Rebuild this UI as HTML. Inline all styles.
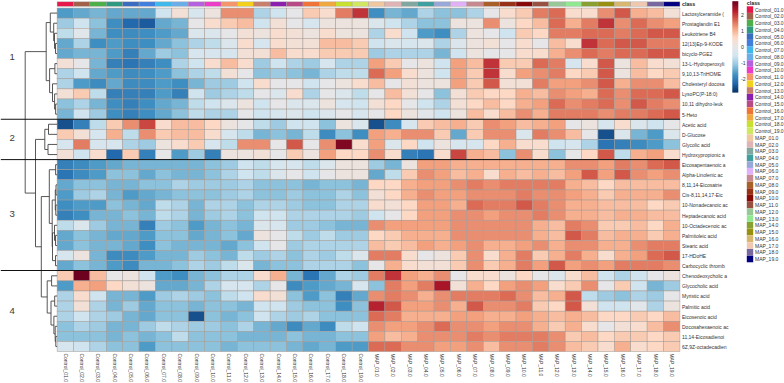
<!DOCTYPE html><html><head><meta charset="utf-8"><style>html,body{margin:0;padding:0;background:#fff;}svg{display:block;}text{font-family:"Liberation Sans",sans-serif;}</style></head><body>
<svg width="784" height="383" viewBox="0 0 784 383">
<rect width="784" height="383" fill="#fff"/>
<g stroke="#a39c98" stroke-width="0.4">
<rect x="57.10" y="1.85" width="16.39" height="4.45" fill="#E8174A"/>
<rect x="73.49" y="1.85" width="16.39" height="4.45" fill="#A0604A"/>
<rect x="89.88" y="1.85" width="16.39" height="4.45" fill="#4DAF4A"/>
<rect x="106.27" y="1.85" width="16.39" height="4.45" fill="#2E9A80"/>
<rect x="122.66" y="1.85" width="16.39" height="4.45" fill="#3A6CC0"/>
<rect x="139.05" y="1.85" width="16.39" height="4.45" fill="#3F7FDD"/>
<rect x="155.44" y="1.85" width="16.39" height="4.45" fill="#3FB8EC"/>
<rect x="171.83" y="1.85" width="16.39" height="4.45" fill="#6AAEE8"/>
<rect x="188.22" y="1.85" width="16.39" height="4.45" fill="#B560E0"/>
<rect x="204.61" y="1.85" width="16.39" height="4.45" fill="#EC3CC8"/>
<rect x="221.00" y="1.85" width="16.39" height="4.45" fill="#F4956A"/>
<rect x="237.39" y="1.85" width="16.39" height="4.45" fill="#F2D01C"/>
<rect x="253.78" y="1.85" width="16.39" height="4.45" fill="#C8806C"/>
<rect x="270.17" y="1.85" width="16.39" height="4.45" fill="#8A1FB0"/>
<rect x="286.56" y="1.85" width="16.39" height="4.45" fill="#B84A88"/>
<rect x="302.95" y="1.85" width="16.39" height="4.45" fill="#F07438"/>
<rect x="319.34" y="1.85" width="16.39" height="4.45" fill="#F0A840"/>
<rect x="335.73" y="1.85" width="16.39" height="4.45" fill="#C8E030"/>
<rect x="352.12" y="1.85" width="16.39" height="4.45" fill="#D0E860"/>
<rect x="368.51" y="1.85" width="16.39" height="4.45" fill="#F0C8A0"/>
<rect x="384.90" y="1.85" width="16.39" height="4.45" fill="#E0B4B4"/>
<rect x="401.29" y="1.85" width="16.39" height="4.45" fill="#80A8A0"/>
<rect x="417.68" y="1.85" width="16.39" height="4.45" fill="#40A0A0"/>
<rect x="434.07" y="1.85" width="16.39" height="4.45" fill="#98A8D8"/>
<rect x="450.46" y="1.85" width="16.39" height="4.45" fill="#E0B0F8"/>
<rect x="466.85" y="1.85" width="16.39" height="4.45" fill="#C88890"/>
<rect x="483.24" y="1.85" width="16.39" height="4.45" fill="#A86028"/>
<rect x="499.63" y="1.85" width="16.39" height="4.45" fill="#983018"/>
<rect x="516.02" y="1.85" width="16.39" height="4.45" fill="#880808"/>
<rect x="532.41" y="1.85" width="16.39" height="4.45" fill="#985040"/>
<rect x="548.80" y="1.85" width="16.39" height="4.45" fill="#98C898"/>
<rect x="565.19" y="1.85" width="16.39" height="4.45" fill="#90E890"/>
<rect x="581.58" y="1.85" width="16.39" height="4.45" fill="#88A030"/>
<rect x="597.97" y="1.85" width="16.39" height="4.45" fill="#989010"/>
<rect x="614.36" y="1.85" width="16.39" height="4.45" fill="#D8B870"/>
<rect x="630.75" y="1.85" width="16.39" height="4.45" fill="#F0C8B0"/>
<rect x="647.14" y="1.85" width="16.39" height="4.45" fill="#7868A0"/>
<rect x="663.53" y="1.85" width="16.39" height="4.45" fill="#000080"/>
</g>
<g stroke="#a39a94" stroke-width="0.5">
<rect x="57.10" y="8.05" width="16.39" height="10.10" fill="#4f9bc7"/>
<rect x="73.49" y="8.05" width="16.39" height="10.10" fill="#64a8ce"/>
<rect x="89.88" y="8.05" width="16.39" height="10.10" fill="#78b5d5"/>
<rect x="106.27" y="8.05" width="16.39" height="10.10" fill="#64a8ce"/>
<rect x="122.66" y="8.05" width="16.39" height="10.10" fill="#64a8ce"/>
<rect x="139.05" y="8.05" width="16.39" height="10.10" fill="#64a8ce"/>
<rect x="155.44" y="8.05" width="16.39" height="10.10" fill="#cfe4ef"/>
<rect x="171.83" y="8.05" width="16.39" height="10.10" fill="#f2e0d7"/>
<rect x="188.22" y="8.05" width="16.39" height="10.10" fill="#d6e5ee"/>
<rect x="204.61" y="8.05" width="16.39" height="10.10" fill="#ece3df"/>
<rect x="221.00" y="8.05" width="16.39" height="10.10" fill="#ea8e71"/>
<rect x="237.39" y="8.05" width="16.39" height="10.10" fill="#ea8e71"/>
<rect x="253.78" y="8.05" width="16.39" height="10.10" fill="#aed3e6"/>
<rect x="270.17" y="8.05" width="16.39" height="10.10" fill="#cfe4ef"/>
<rect x="286.56" y="8.05" width="16.39" height="10.10" fill="#e6e6e8"/>
<rect x="302.95" y="8.05" width="16.39" height="10.10" fill="#facbb3"/>
<rect x="319.34" y="8.05" width="16.39" height="10.10" fill="#f8ddce"/>
<rect x="335.73" y="8.05" width="16.39" height="10.10" fill="#e27d63"/>
<rect x="352.12" y="8.05" width="16.39" height="10.10" fill="#c03338"/>
<rect x="368.51" y="8.05" width="16.39" height="10.10" fill="#3f8ec1"/>
<rect x="384.90" y="8.05" width="16.39" height="10.10" fill="#78b5d5"/>
<rect x="401.29" y="8.05" width="16.39" height="10.10" fill="#64a8ce"/>
<rect x="417.68" y="8.05" width="16.39" height="10.10" fill="#aed3e6"/>
<rect x="434.07" y="8.05" width="16.39" height="10.10" fill="#8dc2dc"/>
<rect x="450.46" y="8.05" width="16.39" height="10.10" fill="#8dc2dc"/>
<rect x="466.85" y="8.05" width="16.39" height="10.10" fill="#aed3e6"/>
<rect x="483.24" y="8.05" width="16.39" height="10.10" fill="#e6e6e8"/>
<rect x="499.63" y="8.05" width="16.39" height="10.10" fill="#f8ddce"/>
<rect x="516.02" y="8.05" width="16.39" height="10.10" fill="#facbb3"/>
<rect x="532.41" y="8.05" width="16.39" height="10.10" fill="#e27d63"/>
<rect x="548.80" y="8.05" width="16.39" height="10.10" fill="#db6b55"/>
<rect x="565.19" y="8.05" width="16.39" height="10.10" fill="#f8ddce"/>
<rect x="581.58" y="8.05" width="16.39" height="10.10" fill="#f8ddce"/>
<rect x="597.97" y="8.05" width="16.39" height="10.10" fill="#ea8e71"/>
<rect x="614.36" y="8.05" width="16.39" height="10.10" fill="#d25949"/>
<rect x="630.75" y="8.05" width="16.39" height="10.10" fill="#f6af8f"/>
<rect x="647.14" y="8.05" width="16.39" height="10.10" fill="#f8bda1"/>
<rect x="663.53" y="8.05" width="16.39" height="10.10" fill="#f2e0d7"/>
<rect x="57.10" y="18.15" width="16.39" height="10.10" fill="#9ecbe1"/>
<rect x="73.49" y="18.15" width="16.39" height="10.10" fill="#cfe4ef"/>
<rect x="89.88" y="18.15" width="16.39" height="10.10" fill="#8dc2dc"/>
<rect x="106.27" y="18.15" width="16.39" height="10.10" fill="#3f8ec1"/>
<rect x="122.66" y="18.15" width="16.39" height="10.10" fill="#2369ae"/>
<rect x="139.05" y="18.15" width="16.39" height="10.10" fill="#1c5c9e"/>
<rect x="155.44" y="18.15" width="16.39" height="10.10" fill="#64a8ce"/>
<rect x="171.83" y="18.15" width="16.39" height="10.10" fill="#78b5d5"/>
<rect x="188.22" y="18.15" width="16.39" height="10.10" fill="#e6e6e8"/>
<rect x="204.61" y="18.15" width="16.39" height="10.10" fill="#f8ddce"/>
<rect x="221.00" y="18.15" width="16.39" height="10.10" fill="#facbb3"/>
<rect x="237.39" y="18.15" width="16.39" height="10.10" fill="#f8bda1"/>
<rect x="253.78" y="18.15" width="16.39" height="10.10" fill="#cfe4ef"/>
<rect x="270.17" y="18.15" width="16.39" height="10.10" fill="#f2e0d7"/>
<rect x="286.56" y="18.15" width="16.39" height="10.10" fill="#e6e6e8"/>
<rect x="302.95" y="18.15" width="16.39" height="10.10" fill="#d6e5ee"/>
<rect x="319.34" y="18.15" width="16.39" height="10.10" fill="#ece3df"/>
<rect x="335.73" y="18.15" width="16.39" height="10.10" fill="#ece3df"/>
<rect x="352.12" y="18.15" width="16.39" height="10.10" fill="#ece3df"/>
<rect x="368.51" y="18.15" width="16.39" height="10.10" fill="#dbe5ec"/>
<rect x="384.90" y="18.15" width="16.39" height="10.10" fill="#cfe4ef"/>
<rect x="401.29" y="18.15" width="16.39" height="10.10" fill="#aed3e6"/>
<rect x="417.68" y="18.15" width="16.39" height="10.10" fill="#8dc2dc"/>
<rect x="434.07" y="18.15" width="16.39" height="10.10" fill="#8dc2dc"/>
<rect x="450.46" y="18.15" width="16.39" height="10.10" fill="#ece3df"/>
<rect x="466.85" y="18.15" width="16.39" height="10.10" fill="#ece3df"/>
<rect x="483.24" y="18.15" width="16.39" height="10.10" fill="#ea8e71"/>
<rect x="499.63" y="18.15" width="16.39" height="10.10" fill="#ece3df"/>
<rect x="516.02" y="18.15" width="16.39" height="10.10" fill="#fdd9c5"/>
<rect x="532.41" y="18.15" width="16.39" height="10.10" fill="#f8bda1"/>
<rect x="548.80" y="18.15" width="16.39" height="10.10" fill="#db6b55"/>
<rect x="565.19" y="18.15" width="16.39" height="10.10" fill="#f6af8f"/>
<rect x="581.58" y="18.15" width="16.39" height="10.10" fill="#e27d63"/>
<rect x="597.97" y="18.15" width="16.39" height="10.10" fill="#c03338"/>
<rect x="614.36" y="18.15" width="16.39" height="10.10" fill="#ea8e71"/>
<rect x="630.75" y="18.15" width="16.39" height="10.10" fill="#db6b55"/>
<rect x="647.14" y="18.15" width="16.39" height="10.10" fill="#ea8e71"/>
<rect x="663.53" y="18.15" width="16.39" height="10.10" fill="#f2a07e"/>
<rect x="57.10" y="28.26" width="16.39" height="10.10" fill="#bfdceb"/>
<rect x="73.49" y="28.26" width="16.39" height="10.10" fill="#e1e6ea"/>
<rect x="89.88" y="28.26" width="16.39" height="10.10" fill="#78b5d5"/>
<rect x="106.27" y="28.26" width="16.39" height="10.10" fill="#3f8ec1"/>
<rect x="122.66" y="28.26" width="16.39" height="10.10" fill="#3e8cbf"/>
<rect x="139.05" y="28.26" width="16.39" height="10.10" fill="#3f8ec1"/>
<rect x="155.44" y="28.26" width="16.39" height="10.10" fill="#4f9bc7"/>
<rect x="171.83" y="28.26" width="16.39" height="10.10" fill="#64a8ce"/>
<rect x="188.22" y="28.26" width="16.39" height="10.10" fill="#dbe5ec"/>
<rect x="204.61" y="28.26" width="16.39" height="10.10" fill="#dbe5ec"/>
<rect x="221.00" y="28.26" width="16.39" height="10.10" fill="#e6e6e8"/>
<rect x="237.39" y="28.26" width="16.39" height="10.10" fill="#f2e0d7"/>
<rect x="253.78" y="28.26" width="16.39" height="10.10" fill="#ece3df"/>
<rect x="270.17" y="28.26" width="16.39" height="10.10" fill="#f8ddce"/>
<rect x="286.56" y="28.26" width="16.39" height="10.10" fill="#f2e0d7"/>
<rect x="302.95" y="28.26" width="16.39" height="10.10" fill="#ece3df"/>
<rect x="319.34" y="28.26" width="16.39" height="10.10" fill="#f8ddce"/>
<rect x="335.73" y="28.26" width="16.39" height="10.10" fill="#ece3df"/>
<rect x="352.12" y="28.26" width="16.39" height="10.10" fill="#ece3df"/>
<rect x="368.51" y="28.26" width="16.39" height="10.10" fill="#aed3e6"/>
<rect x="384.90" y="28.26" width="16.39" height="10.10" fill="#f8ddce"/>
<rect x="401.29" y="28.26" width="16.39" height="10.10" fill="#cfe4ef"/>
<rect x="417.68" y="28.26" width="16.39" height="10.10" fill="#4f9bc7"/>
<rect x="434.07" y="28.26" width="16.39" height="10.10" fill="#3f8ec1"/>
<rect x="450.46" y="28.26" width="16.39" height="10.10" fill="#aed3e6"/>
<rect x="466.85" y="28.26" width="16.39" height="10.10" fill="#ece3df"/>
<rect x="483.24" y="28.26" width="16.39" height="10.10" fill="#e6e6e8"/>
<rect x="499.63" y="28.26" width="16.39" height="10.10" fill="#cfe4ef"/>
<rect x="516.02" y="28.26" width="16.39" height="10.10" fill="#facbb3"/>
<rect x="532.41" y="28.26" width="16.39" height="10.10" fill="#fdd9c5"/>
<rect x="548.80" y="28.26" width="16.39" height="10.10" fill="#e27d63"/>
<rect x="565.19" y="28.26" width="16.39" height="10.10" fill="#e27d63"/>
<rect x="581.58" y="28.26" width="16.39" height="10.10" fill="#db6b55"/>
<rect x="597.97" y="28.26" width="16.39" height="10.10" fill="#db6b55"/>
<rect x="614.36" y="28.26" width="16.39" height="10.10" fill="#e27d63"/>
<rect x="630.75" y="28.26" width="16.39" height="10.10" fill="#db6b55"/>
<rect x="647.14" y="28.26" width="16.39" height="10.10" fill="#d25949"/>
<rect x="663.53" y="28.26" width="16.39" height="10.10" fill="#d25949"/>
<rect x="57.10" y="38.36" width="16.39" height="10.10" fill="#64a8ce"/>
<rect x="73.49" y="38.36" width="16.39" height="10.10" fill="#aed3e6"/>
<rect x="89.88" y="38.36" width="16.39" height="10.10" fill="#3f8ec1"/>
<rect x="106.27" y="38.36" width="16.39" height="10.10" fill="#4f9bc7"/>
<rect x="122.66" y="38.36" width="16.39" height="10.10" fill="#3f8ec1"/>
<rect x="139.05" y="38.36" width="16.39" height="10.10" fill="#3f8ec1"/>
<rect x="155.44" y="38.36" width="16.39" height="10.10" fill="#64a8ce"/>
<rect x="171.83" y="38.36" width="16.39" height="10.10" fill="#8dc2dc"/>
<rect x="188.22" y="38.36" width="16.39" height="10.10" fill="#aed3e6"/>
<rect x="204.61" y="38.36" width="16.39" height="10.10" fill="#bfdceb"/>
<rect x="221.00" y="38.36" width="16.39" height="10.10" fill="#dbe5ec"/>
<rect x="237.39" y="38.36" width="16.39" height="10.10" fill="#f8ddce"/>
<rect x="253.78" y="38.36" width="16.39" height="10.10" fill="#d6e5ee"/>
<rect x="270.17" y="38.36" width="16.39" height="10.10" fill="#f8ddce"/>
<rect x="286.56" y="38.36" width="16.39" height="10.10" fill="#f2e0d7"/>
<rect x="302.95" y="38.36" width="16.39" height="10.10" fill="#f2e0d7"/>
<rect x="319.34" y="38.36" width="16.39" height="10.10" fill="#f8bda1"/>
<rect x="335.73" y="38.36" width="16.39" height="10.10" fill="#f8bda1"/>
<rect x="352.12" y="38.36" width="16.39" height="10.10" fill="#facbb3"/>
<rect x="368.51" y="38.36" width="16.39" height="10.10" fill="#cfe4ef"/>
<rect x="384.90" y="38.36" width="16.39" height="10.10" fill="#dbe5ec"/>
<rect x="401.29" y="38.36" width="16.39" height="10.10" fill="#d6e5ee"/>
<rect x="417.68" y="38.36" width="16.39" height="10.10" fill="#dbe5ec"/>
<rect x="434.07" y="38.36" width="16.39" height="10.10" fill="#aed3e6"/>
<rect x="450.46" y="38.36" width="16.39" height="10.10" fill="#dbe5ec"/>
<rect x="466.85" y="38.36" width="16.39" height="10.10" fill="#ece3df"/>
<rect x="483.24" y="38.36" width="16.39" height="10.10" fill="#f2e0d7"/>
<rect x="499.63" y="38.36" width="16.39" height="10.10" fill="#e6e6e8"/>
<rect x="516.02" y="38.36" width="16.39" height="10.10" fill="#f8ddce"/>
<rect x="532.41" y="38.36" width="16.39" height="10.10" fill="#e6e6e8"/>
<rect x="548.80" y="38.36" width="16.39" height="10.10" fill="#f8bda1"/>
<rect x="565.19" y="38.36" width="16.39" height="10.10" fill="#f8ddce"/>
<rect x="581.58" y="38.36" width="16.39" height="10.10" fill="#c03338"/>
<rect x="597.97" y="38.36" width="16.39" height="10.10" fill="#db6b55"/>
<rect x="614.36" y="38.36" width="16.39" height="10.10" fill="#d25949"/>
<rect x="630.75" y="38.36" width="16.39" height="10.10" fill="#d25949"/>
<rect x="647.14" y="38.36" width="16.39" height="10.10" fill="#e27d63"/>
<rect x="663.53" y="38.36" width="16.39" height="10.10" fill="#e27d63"/>
<rect x="57.10" y="48.47" width="16.39" height="10.10" fill="#64a8ce"/>
<rect x="73.49" y="48.47" width="16.39" height="10.10" fill="#78b5d5"/>
<rect x="89.88" y="48.47" width="16.39" height="10.10" fill="#78b5d5"/>
<rect x="106.27" y="48.47" width="16.39" height="10.10" fill="#4f9bc7"/>
<rect x="122.66" y="48.47" width="16.39" height="10.10" fill="#3580b9"/>
<rect x="139.05" y="48.47" width="16.39" height="10.10" fill="#64a8ce"/>
<rect x="155.44" y="48.47" width="16.39" height="10.10" fill="#9ecbe1"/>
<rect x="171.83" y="48.47" width="16.39" height="10.10" fill="#8dc2dc"/>
<rect x="188.22" y="48.47" width="16.39" height="10.10" fill="#d6e5ee"/>
<rect x="204.61" y="48.47" width="16.39" height="10.10" fill="#d6e5ee"/>
<rect x="221.00" y="48.47" width="16.39" height="10.10" fill="#d6e5ee"/>
<rect x="237.39" y="48.47" width="16.39" height="10.10" fill="#f2e0d7"/>
<rect x="253.78" y="48.47" width="16.39" height="10.10" fill="#f2e0d7"/>
<rect x="270.17" y="48.47" width="16.39" height="10.10" fill="#f8bda1"/>
<rect x="286.56" y="48.47" width="16.39" height="10.10" fill="#f8ddce"/>
<rect x="302.95" y="48.47" width="16.39" height="10.10" fill="#f8ddce"/>
<rect x="319.34" y="48.47" width="16.39" height="10.10" fill="#facbb3"/>
<rect x="335.73" y="48.47" width="16.39" height="10.10" fill="#facbb3"/>
<rect x="352.12" y="48.47" width="16.39" height="10.10" fill="#facbb3"/>
<rect x="368.51" y="48.47" width="16.39" height="10.10" fill="#9ecbe1"/>
<rect x="384.90" y="48.47" width="16.39" height="10.10" fill="#aed3e6"/>
<rect x="401.29" y="48.47" width="16.39" height="10.10" fill="#aed3e6"/>
<rect x="417.68" y="48.47" width="16.39" height="10.10" fill="#aed3e6"/>
<rect x="434.07" y="48.47" width="16.39" height="10.10" fill="#78b5d5"/>
<rect x="450.46" y="48.47" width="16.39" height="10.10" fill="#cfe4ef"/>
<rect x="466.85" y="48.47" width="16.39" height="10.10" fill="#ece3df"/>
<rect x="483.24" y="48.47" width="16.39" height="10.10" fill="#e6e6e8"/>
<rect x="499.63" y="48.47" width="16.39" height="10.10" fill="#e6e6e8"/>
<rect x="516.02" y="48.47" width="16.39" height="10.10" fill="#f8ddce"/>
<rect x="532.41" y="48.47" width="16.39" height="10.10" fill="#f8ddce"/>
<rect x="548.80" y="48.47" width="16.39" height="10.10" fill="#f6af8f"/>
<rect x="565.19" y="48.47" width="16.39" height="10.10" fill="#ea8e71"/>
<rect x="581.58" y="48.47" width="16.39" height="10.10" fill="#db6b55"/>
<rect x="597.97" y="48.47" width="16.39" height="10.10" fill="#e27d63"/>
<rect x="614.36" y="48.47" width="16.39" height="10.10" fill="#db6b55"/>
<rect x="630.75" y="48.47" width="16.39" height="10.10" fill="#db6b55"/>
<rect x="647.14" y="48.47" width="16.39" height="10.10" fill="#d25949"/>
<rect x="663.53" y="48.47" width="16.39" height="10.10" fill="#d25949"/>
<rect x="57.10" y="58.57" width="16.39" height="10.10" fill="#f2e0d7"/>
<rect x="73.49" y="58.57" width="16.39" height="10.10" fill="#e6e6e8"/>
<rect x="89.88" y="58.57" width="16.39" height="10.10" fill="#78b5d5"/>
<rect x="106.27" y="58.57" width="16.39" height="10.10" fill="#3580b9"/>
<rect x="122.66" y="58.57" width="16.39" height="10.10" fill="#2c75b4"/>
<rect x="139.05" y="58.57" width="16.39" height="10.10" fill="#3580b9"/>
<rect x="155.44" y="58.57" width="16.39" height="10.10" fill="#3f8ec1"/>
<rect x="171.83" y="58.57" width="16.39" height="10.10" fill="#aed3e6"/>
<rect x="188.22" y="58.57" width="16.39" height="10.10" fill="#cfe4ef"/>
<rect x="204.61" y="58.57" width="16.39" height="10.10" fill="#f8ddce"/>
<rect x="221.00" y="58.57" width="16.39" height="10.10" fill="#f8bda1"/>
<rect x="237.39" y="58.57" width="16.39" height="10.10" fill="#f8ddce"/>
<rect x="253.78" y="58.57" width="16.39" height="10.10" fill="#9ecbe1"/>
<rect x="270.17" y="58.57" width="16.39" height="10.10" fill="#cfe4ef"/>
<rect x="286.56" y="58.57" width="16.39" height="10.10" fill="#aed3e6"/>
<rect x="302.95" y="58.57" width="16.39" height="10.10" fill="#9ecbe1"/>
<rect x="319.34" y="58.57" width="16.39" height="10.10" fill="#d6e5ee"/>
<rect x="335.73" y="58.57" width="16.39" height="10.10" fill="#aed3e6"/>
<rect x="352.12" y="58.57" width="16.39" height="10.10" fill="#aed3e6"/>
<rect x="368.51" y="58.57" width="16.39" height="10.10" fill="#f2a07e"/>
<rect x="384.90" y="58.57" width="16.39" height="10.10" fill="#facbb3"/>
<rect x="401.29" y="58.57" width="16.39" height="10.10" fill="#e6e6e8"/>
<rect x="417.68" y="58.57" width="16.39" height="10.10" fill="#ece3df"/>
<rect x="434.07" y="58.57" width="16.39" height="10.10" fill="#cfe4ef"/>
<rect x="450.46" y="58.57" width="16.39" height="10.10" fill="#f2a07e"/>
<rect x="466.85" y="58.57" width="16.39" height="10.10" fill="#f8bda1"/>
<rect x="483.24" y="58.57" width="16.39" height="10.10" fill="#c03338"/>
<rect x="499.63" y="58.57" width="16.39" height="10.10" fill="#facbb3"/>
<rect x="516.02" y="58.57" width="16.39" height="10.10" fill="#facbb3"/>
<rect x="532.41" y="58.57" width="16.39" height="10.10" fill="#db6b55"/>
<rect x="548.80" y="58.57" width="16.39" height="10.10" fill="#e27d63"/>
<rect x="565.19" y="58.57" width="16.39" height="10.10" fill="#d6e5ee"/>
<rect x="581.58" y="58.57" width="16.39" height="10.10" fill="#f8ddce"/>
<rect x="597.97" y="58.57" width="16.39" height="10.10" fill="#d25949"/>
<rect x="614.36" y="58.57" width="16.39" height="10.10" fill="#ece3df"/>
<rect x="630.75" y="58.57" width="16.39" height="10.10" fill="#f8bda1"/>
<rect x="647.14" y="58.57" width="16.39" height="10.10" fill="#f8ddce"/>
<rect x="663.53" y="58.57" width="16.39" height="10.10" fill="#f2e0d7"/>
<rect x="57.10" y="68.67" width="16.39" height="10.10" fill="#aed3e6"/>
<rect x="73.49" y="68.67" width="16.39" height="10.10" fill="#cfe4ef"/>
<rect x="89.88" y="68.67" width="16.39" height="10.10" fill="#64a8ce"/>
<rect x="106.27" y="68.67" width="16.39" height="10.10" fill="#4f9bc7"/>
<rect x="122.66" y="68.67" width="16.39" height="10.10" fill="#3e8cbf"/>
<rect x="139.05" y="68.67" width="16.39" height="10.10" fill="#3f8ec1"/>
<rect x="155.44" y="68.67" width="16.39" height="10.10" fill="#4f9bc7"/>
<rect x="171.83" y="68.67" width="16.39" height="10.10" fill="#8dc2dc"/>
<rect x="188.22" y="68.67" width="16.39" height="10.10" fill="#aed3e6"/>
<rect x="204.61" y="68.67" width="16.39" height="10.10" fill="#bfdceb"/>
<rect x="221.00" y="68.67" width="16.39" height="10.10" fill="#f2e0d7"/>
<rect x="237.39" y="68.67" width="16.39" height="10.10" fill="#e6e6e8"/>
<rect x="253.78" y="68.67" width="16.39" height="10.10" fill="#8dc2dc"/>
<rect x="270.17" y="68.67" width="16.39" height="10.10" fill="#9ecbe1"/>
<rect x="286.56" y="68.67" width="16.39" height="10.10" fill="#8dc2dc"/>
<rect x="302.95" y="68.67" width="16.39" height="10.10" fill="#78b5d5"/>
<rect x="319.34" y="68.67" width="16.39" height="10.10" fill="#aed3e6"/>
<rect x="335.73" y="68.67" width="16.39" height="10.10" fill="#bfdceb"/>
<rect x="352.12" y="68.67" width="16.39" height="10.10" fill="#bfdceb"/>
<rect x="368.51" y="68.67" width="16.39" height="10.10" fill="#db6b55"/>
<rect x="384.90" y="68.67" width="16.39" height="10.10" fill="#f2a07e"/>
<rect x="401.29" y="68.67" width="16.39" height="10.10" fill="#f8ddce"/>
<rect x="417.68" y="68.67" width="16.39" height="10.10" fill="#ece3df"/>
<rect x="434.07" y="68.67" width="16.39" height="10.10" fill="#cfe4ef"/>
<rect x="450.46" y="68.67" width="16.39" height="10.10" fill="#f2a07e"/>
<rect x="466.85" y="68.67" width="16.39" height="10.10" fill="#facbb3"/>
<rect x="483.24" y="68.67" width="16.39" height="10.10" fill="#c03338"/>
<rect x="499.63" y="68.67" width="16.39" height="10.10" fill="#f8ddce"/>
<rect x="516.02" y="68.67" width="16.39" height="10.10" fill="#f2a07e"/>
<rect x="532.41" y="68.67" width="16.39" height="10.10" fill="#ea8e71"/>
<rect x="548.80" y="68.67" width="16.39" height="10.10" fill="#e27d63"/>
<rect x="565.19" y="68.67" width="16.39" height="10.10" fill="#fdd9c5"/>
<rect x="581.58" y="68.67" width="16.39" height="10.10" fill="#facbb3"/>
<rect x="597.97" y="68.67" width="16.39" height="10.10" fill="#d25949"/>
<rect x="614.36" y="68.67" width="16.39" height="10.10" fill="#ece3df"/>
<rect x="630.75" y="68.67" width="16.39" height="10.10" fill="#f8bda1"/>
<rect x="647.14" y="68.67" width="16.39" height="10.10" fill="#fdd9c5"/>
<rect x="663.53" y="68.67" width="16.39" height="10.10" fill="#facbb3"/>
<rect x="57.10" y="78.78" width="16.39" height="10.10" fill="#aed3e6"/>
<rect x="73.49" y="78.78" width="16.39" height="10.10" fill="#4f9bc7"/>
<rect x="89.88" y="78.78" width="16.39" height="10.10" fill="#3e8cbf"/>
<rect x="106.27" y="78.78" width="16.39" height="10.10" fill="#64a8ce"/>
<rect x="122.66" y="78.78" width="16.39" height="10.10" fill="#3e8cbf"/>
<rect x="139.05" y="78.78" width="16.39" height="10.10" fill="#3e8cbf"/>
<rect x="155.44" y="78.78" width="16.39" height="10.10" fill="#4f9bc7"/>
<rect x="171.83" y="78.78" width="16.39" height="10.10" fill="#3f8ec1"/>
<rect x="188.22" y="78.78" width="16.39" height="10.10" fill="#78b5d5"/>
<rect x="204.61" y="78.78" width="16.39" height="10.10" fill="#9ecbe1"/>
<rect x="221.00" y="78.78" width="16.39" height="10.10" fill="#9ecbe1"/>
<rect x="237.39" y="78.78" width="16.39" height="10.10" fill="#cfe4ef"/>
<rect x="253.78" y="78.78" width="16.39" height="10.10" fill="#f8ddce"/>
<rect x="270.17" y="78.78" width="16.39" height="10.10" fill="#e6e6e8"/>
<rect x="286.56" y="78.78" width="16.39" height="10.10" fill="#e6e6e8"/>
<rect x="302.95" y="78.78" width="16.39" height="10.10" fill="#cfe4ef"/>
<rect x="319.34" y="78.78" width="16.39" height="10.10" fill="#e6e6e8"/>
<rect x="335.73" y="78.78" width="16.39" height="10.10" fill="#ece3df"/>
<rect x="352.12" y="78.78" width="16.39" height="10.10" fill="#f8ddce"/>
<rect x="368.51" y="78.78" width="16.39" height="10.10" fill="#f8bda1"/>
<rect x="384.90" y="78.78" width="16.39" height="10.10" fill="#e6e6e8"/>
<rect x="401.29" y="78.78" width="16.39" height="10.10" fill="#f2e0d7"/>
<rect x="417.68" y="78.78" width="16.39" height="10.10" fill="#ece3df"/>
<rect x="434.07" y="78.78" width="16.39" height="10.10" fill="#ece3df"/>
<rect x="450.46" y="78.78" width="16.39" height="10.10" fill="#f2a07e"/>
<rect x="466.85" y="78.78" width="16.39" height="10.10" fill="#facbb3"/>
<rect x="483.24" y="78.78" width="16.39" height="10.10" fill="#d25949"/>
<rect x="499.63" y="78.78" width="16.39" height="10.10" fill="#f2e0d7"/>
<rect x="516.02" y="78.78" width="16.39" height="10.10" fill="#f2e0d7"/>
<rect x="532.41" y="78.78" width="16.39" height="10.10" fill="#e27d63"/>
<rect x="548.80" y="78.78" width="16.39" height="10.10" fill="#f2a07e"/>
<rect x="565.19" y="78.78" width="16.39" height="10.10" fill="#f2a07e"/>
<rect x="581.58" y="78.78" width="16.39" height="10.10" fill="#ea8e71"/>
<rect x="597.97" y="78.78" width="16.39" height="10.10" fill="#d25949"/>
<rect x="614.36" y="78.78" width="16.39" height="10.10" fill="#f6af8f"/>
<rect x="630.75" y="78.78" width="16.39" height="10.10" fill="#ea8e71"/>
<rect x="647.14" y="78.78" width="16.39" height="10.10" fill="#ea8e71"/>
<rect x="663.53" y="78.78" width="16.39" height="10.10" fill="#f8bda1"/>
<rect x="57.10" y="88.88" width="16.39" height="10.10" fill="#f2e0d7"/>
<rect x="73.49" y="88.88" width="16.39" height="10.10" fill="#facbb3"/>
<rect x="89.88" y="88.88" width="16.39" height="10.10" fill="#bfdceb"/>
<rect x="106.27" y="88.88" width="16.39" height="10.10" fill="#3580b9"/>
<rect x="122.66" y="88.88" width="16.39" height="10.10" fill="#3580b9"/>
<rect x="139.05" y="88.88" width="16.39" height="10.10" fill="#3580b9"/>
<rect x="155.44" y="88.88" width="16.39" height="10.10" fill="#4f9bc7"/>
<rect x="171.83" y="88.88" width="16.39" height="10.10" fill="#3580b9"/>
<rect x="188.22" y="88.88" width="16.39" height="10.10" fill="#cfe4ef"/>
<rect x="204.61" y="88.88" width="16.39" height="10.10" fill="#9ecbe1"/>
<rect x="221.00" y="88.88" width="16.39" height="10.10" fill="#aed3e6"/>
<rect x="237.39" y="88.88" width="16.39" height="10.10" fill="#bfdceb"/>
<rect x="253.78" y="88.88" width="16.39" height="10.10" fill="#e6e6e8"/>
<rect x="270.17" y="88.88" width="16.39" height="10.10" fill="#dbe5ec"/>
<rect x="286.56" y="88.88" width="16.39" height="10.10" fill="#f8ddce"/>
<rect x="302.95" y="88.88" width="16.39" height="10.10" fill="#aed3e6"/>
<rect x="319.34" y="88.88" width="16.39" height="10.10" fill="#e6e6e8"/>
<rect x="335.73" y="88.88" width="16.39" height="10.10" fill="#dbe5ec"/>
<rect x="352.12" y="88.88" width="16.39" height="10.10" fill="#bfdceb"/>
<rect x="368.51" y="88.88" width="16.39" height="10.10" fill="#e6e6e8"/>
<rect x="384.90" y="88.88" width="16.39" height="10.10" fill="#f8bda1"/>
<rect x="401.29" y="88.88" width="16.39" height="10.10" fill="#f2e0d7"/>
<rect x="417.68" y="88.88" width="16.39" height="10.10" fill="#e6e6e8"/>
<rect x="434.07" y="88.88" width="16.39" height="10.10" fill="#8dc2dc"/>
<rect x="450.46" y="88.88" width="16.39" height="10.10" fill="#f2e0d7"/>
<rect x="466.85" y="88.88" width="16.39" height="10.10" fill="#facbb3"/>
<rect x="483.24" y="88.88" width="16.39" height="10.10" fill="#fdd9c5"/>
<rect x="499.63" y="88.88" width="16.39" height="10.10" fill="#fdd9c5"/>
<rect x="516.02" y="88.88" width="16.39" height="10.10" fill="#f6af8f"/>
<rect x="532.41" y="88.88" width="16.39" height="10.10" fill="#f8bda1"/>
<rect x="548.80" y="88.88" width="16.39" height="10.10" fill="#ea8e71"/>
<rect x="565.19" y="88.88" width="16.39" height="10.10" fill="#f2a07e"/>
<rect x="581.58" y="88.88" width="16.39" height="10.10" fill="#f6af8f"/>
<rect x="597.97" y="88.88" width="16.39" height="10.10" fill="#db6b55"/>
<rect x="614.36" y="88.88" width="16.39" height="10.10" fill="#ea8e71"/>
<rect x="630.75" y="88.88" width="16.39" height="10.10" fill="#db6b55"/>
<rect x="647.14" y="88.88" width="16.39" height="10.10" fill="#db6b55"/>
<rect x="663.53" y="88.88" width="16.39" height="10.10" fill="#d25949"/>
<rect x="57.10" y="98.99" width="16.39" height="10.10" fill="#8dc2dc"/>
<rect x="73.49" y="98.99" width="16.39" height="10.10" fill="#aed3e6"/>
<rect x="89.88" y="98.99" width="16.39" height="10.10" fill="#78b5d5"/>
<rect x="106.27" y="98.99" width="16.39" height="10.10" fill="#3f8ec1"/>
<rect x="122.66" y="98.99" width="16.39" height="10.10" fill="#3580b9"/>
<rect x="139.05" y="98.99" width="16.39" height="10.10" fill="#3f8ec1"/>
<rect x="155.44" y="98.99" width="16.39" height="10.10" fill="#64a8ce"/>
<rect x="171.83" y="98.99" width="16.39" height="10.10" fill="#78b5d5"/>
<rect x="188.22" y="98.99" width="16.39" height="10.10" fill="#bfdceb"/>
<rect x="204.61" y="98.99" width="16.39" height="10.10" fill="#cfe4ef"/>
<rect x="221.00" y="98.99" width="16.39" height="10.10" fill="#dbe5ec"/>
<rect x="237.39" y="98.99" width="16.39" height="10.10" fill="#ece3df"/>
<rect x="253.78" y="98.99" width="16.39" height="10.10" fill="#cfe4ef"/>
<rect x="270.17" y="98.99" width="16.39" height="10.10" fill="#e6e6e8"/>
<rect x="286.56" y="98.99" width="16.39" height="10.10" fill="#dbe5ec"/>
<rect x="302.95" y="98.99" width="16.39" height="10.10" fill="#dbe5ec"/>
<rect x="319.34" y="98.99" width="16.39" height="10.10" fill="#ece3df"/>
<rect x="335.73" y="98.99" width="16.39" height="10.10" fill="#d6e5ee"/>
<rect x="352.12" y="98.99" width="16.39" height="10.10" fill="#cfe4ef"/>
<rect x="368.51" y="98.99" width="16.39" height="10.10" fill="#f2e0d7"/>
<rect x="384.90" y="98.99" width="16.39" height="10.10" fill="#fdd9c5"/>
<rect x="401.29" y="98.99" width="16.39" height="10.10" fill="#e6e6e8"/>
<rect x="417.68" y="98.99" width="16.39" height="10.10" fill="#cfe4ef"/>
<rect x="434.07" y="98.99" width="16.39" height="10.10" fill="#aed3e6"/>
<rect x="450.46" y="98.99" width="16.39" height="10.10" fill="#f2e0d7"/>
<rect x="466.85" y="98.99" width="16.39" height="10.10" fill="#fdd9c5"/>
<rect x="483.24" y="98.99" width="16.39" height="10.10" fill="#f8bda1"/>
<rect x="499.63" y="98.99" width="16.39" height="10.10" fill="#fdd9c5"/>
<rect x="516.02" y="98.99" width="16.39" height="10.10" fill="#f6af8f"/>
<rect x="532.41" y="98.99" width="16.39" height="10.10" fill="#f2a07e"/>
<rect x="548.80" y="98.99" width="16.39" height="10.10" fill="#db6b55"/>
<rect x="565.19" y="98.99" width="16.39" height="10.10" fill="#ea8e71"/>
<rect x="581.58" y="98.99" width="16.39" height="10.10" fill="#e27d63"/>
<rect x="597.97" y="98.99" width="16.39" height="10.10" fill="#db6b55"/>
<rect x="614.36" y="98.99" width="16.39" height="10.10" fill="#ea8e71"/>
<rect x="630.75" y="98.99" width="16.39" height="10.10" fill="#d25949"/>
<rect x="647.14" y="98.99" width="16.39" height="10.10" fill="#e27d63"/>
<rect x="663.53" y="98.99" width="16.39" height="10.10" fill="#ea8e71"/>
<rect x="57.10" y="109.09" width="16.39" height="10.10" fill="#78b5d5"/>
<rect x="73.49" y="109.09" width="16.39" height="10.10" fill="#cfe4ef"/>
<rect x="89.88" y="109.09" width="16.39" height="10.10" fill="#9ecbe1"/>
<rect x="106.27" y="109.09" width="16.39" height="10.10" fill="#3f8ec1"/>
<rect x="122.66" y="109.09" width="16.39" height="10.10" fill="#3580b9"/>
<rect x="139.05" y="109.09" width="16.39" height="10.10" fill="#3f8ec1"/>
<rect x="155.44" y="109.09" width="16.39" height="10.10" fill="#64a8ce"/>
<rect x="171.83" y="109.09" width="16.39" height="10.10" fill="#8dc2dc"/>
<rect x="188.22" y="109.09" width="16.39" height="10.10" fill="#bfdceb"/>
<rect x="204.61" y="109.09" width="16.39" height="10.10" fill="#aed3e6"/>
<rect x="221.00" y="109.09" width="16.39" height="10.10" fill="#aed3e6"/>
<rect x="237.39" y="109.09" width="16.39" height="10.10" fill="#e6e6e8"/>
<rect x="253.78" y="109.09" width="16.39" height="10.10" fill="#cfe4ef"/>
<rect x="270.17" y="109.09" width="16.39" height="10.10" fill="#d6e5ee"/>
<rect x="286.56" y="109.09" width="16.39" height="10.10" fill="#dbe5ec"/>
<rect x="302.95" y="109.09" width="16.39" height="10.10" fill="#cfe4ef"/>
<rect x="319.34" y="109.09" width="16.39" height="10.10" fill="#dbe5ec"/>
<rect x="335.73" y="109.09" width="16.39" height="10.10" fill="#e6e6e8"/>
<rect x="352.12" y="109.09" width="16.39" height="10.10" fill="#d6e5ee"/>
<rect x="368.51" y="109.09" width="16.39" height="10.10" fill="#e6e6e8"/>
<rect x="384.90" y="109.09" width="16.39" height="10.10" fill="#fdd9c5"/>
<rect x="401.29" y="109.09" width="16.39" height="10.10" fill="#ece3df"/>
<rect x="417.68" y="109.09" width="16.39" height="10.10" fill="#e1e6ea"/>
<rect x="434.07" y="109.09" width="16.39" height="10.10" fill="#cfe4ef"/>
<rect x="450.46" y="109.09" width="16.39" height="10.10" fill="#ece3df"/>
<rect x="466.85" y="109.09" width="16.39" height="10.10" fill="#f8bda1"/>
<rect x="483.24" y="109.09" width="16.39" height="10.10" fill="#f8ddce"/>
<rect x="499.63" y="109.09" width="16.39" height="10.10" fill="#f8bda1"/>
<rect x="516.02" y="109.09" width="16.39" height="10.10" fill="#ea8e71"/>
<rect x="532.41" y="109.09" width="16.39" height="10.10" fill="#f6af8f"/>
<rect x="548.80" y="109.09" width="16.39" height="10.10" fill="#e27d63"/>
<rect x="565.19" y="109.09" width="16.39" height="10.10" fill="#e27d63"/>
<rect x="581.58" y="109.09" width="16.39" height="10.10" fill="#e27d63"/>
<rect x="597.97" y="109.09" width="16.39" height="10.10" fill="#ea8e71"/>
<rect x="614.36" y="109.09" width="16.39" height="10.10" fill="#e27d63"/>
<rect x="630.75" y="109.09" width="16.39" height="10.10" fill="#e27d63"/>
<rect x="647.14" y="109.09" width="16.39" height="10.10" fill="#db6b55"/>
<rect x="663.53" y="109.09" width="16.39" height="10.10" fill="#d25949"/>
<rect x="57.10" y="119.19" width="16.39" height="10.10" fill="#16518e"/>
<rect x="73.49" y="119.19" width="16.39" height="10.10" fill="#3580b9"/>
<rect x="89.88" y="119.19" width="16.39" height="10.10" fill="#bfdceb"/>
<rect x="106.27" y="119.19" width="16.39" height="10.10" fill="#facbb3"/>
<rect x="122.66" y="119.19" width="16.39" height="10.10" fill="#ea8e71"/>
<rect x="139.05" y="119.19" width="16.39" height="10.10" fill="#c94641"/>
<rect x="155.44" y="119.19" width="16.39" height="10.10" fill="#f8ddce"/>
<rect x="171.83" y="119.19" width="16.39" height="10.10" fill="#f8bda1"/>
<rect x="188.22" y="119.19" width="16.39" height="10.10" fill="#f8bda1"/>
<rect x="204.61" y="119.19" width="16.39" height="10.10" fill="#fdd9c5"/>
<rect x="221.00" y="119.19" width="16.39" height="10.10" fill="#ece3df"/>
<rect x="237.39" y="119.19" width="16.39" height="10.10" fill="#e6e6e8"/>
<rect x="253.78" y="119.19" width="16.39" height="10.10" fill="#bfdceb"/>
<rect x="270.17" y="119.19" width="16.39" height="10.10" fill="#9ecbe1"/>
<rect x="286.56" y="119.19" width="16.39" height="10.10" fill="#cfe4ef"/>
<rect x="302.95" y="119.19" width="16.39" height="10.10" fill="#cfe4ef"/>
<rect x="319.34" y="119.19" width="16.39" height="10.10" fill="#8dc2dc"/>
<rect x="335.73" y="119.19" width="16.39" height="10.10" fill="#ece3df"/>
<rect x="352.12" y="119.19" width="16.39" height="10.10" fill="#dbe5ec"/>
<rect x="368.51" y="119.19" width="16.39" height="10.10" fill="#16518e"/>
<rect x="384.90" y="119.19" width="16.39" height="10.10" fill="#3e8cbf"/>
<rect x="401.29" y="119.19" width="16.39" height="10.10" fill="#d6e5ee"/>
<rect x="417.68" y="119.19" width="16.39" height="10.10" fill="#facbb3"/>
<rect x="434.07" y="119.19" width="16.39" height="10.10" fill="#f8bda1"/>
<rect x="450.46" y="119.19" width="16.39" height="10.10" fill="#f6af8f"/>
<rect x="466.85" y="119.19" width="16.39" height="10.10" fill="#facbb3"/>
<rect x="483.24" y="119.19" width="16.39" height="10.10" fill="#ea8e71"/>
<rect x="499.63" y="119.19" width="16.39" height="10.10" fill="#f2a07e"/>
<rect x="516.02" y="119.19" width="16.39" height="10.10" fill="#f8bda1"/>
<rect x="532.41" y="119.19" width="16.39" height="10.10" fill="#f6af8f"/>
<rect x="548.80" y="119.19" width="16.39" height="10.10" fill="#f2a07e"/>
<rect x="565.19" y="119.19" width="16.39" height="10.10" fill="#e6e6e8"/>
<rect x="581.58" y="119.19" width="16.39" height="10.10" fill="#ece3df"/>
<rect x="597.97" y="119.19" width="16.39" height="10.10" fill="#d6e5ee"/>
<rect x="614.36" y="119.19" width="16.39" height="10.10" fill="#f8ddce"/>
<rect x="630.75" y="119.19" width="16.39" height="10.10" fill="#dbe5ec"/>
<rect x="647.14" y="119.19" width="16.39" height="10.10" fill="#cfe4ef"/>
<rect x="663.53" y="119.19" width="16.39" height="10.10" fill="#e6e6e8"/>
<rect x="57.10" y="129.30" width="16.39" height="10.10" fill="#facbb3"/>
<rect x="73.49" y="129.30" width="16.39" height="10.10" fill="#f2e0d7"/>
<rect x="89.88" y="129.30" width="16.39" height="10.10" fill="#d6e5ee"/>
<rect x="106.27" y="129.30" width="16.39" height="10.10" fill="#f6af8f"/>
<rect x="122.66" y="129.30" width="16.39" height="10.10" fill="#bfdceb"/>
<rect x="139.05" y="129.30" width="16.39" height="10.10" fill="#ea8e71"/>
<rect x="155.44" y="129.30" width="16.39" height="10.10" fill="#facbb3"/>
<rect x="171.83" y="129.30" width="16.39" height="10.10" fill="#f8bda1"/>
<rect x="188.22" y="129.30" width="16.39" height="10.10" fill="#f8bda1"/>
<rect x="204.61" y="129.30" width="16.39" height="10.10" fill="#f8ddce"/>
<rect x="221.00" y="129.30" width="16.39" height="10.10" fill="#d6e5ee"/>
<rect x="237.39" y="129.30" width="16.39" height="10.10" fill="#bfdceb"/>
<rect x="253.78" y="129.30" width="16.39" height="10.10" fill="#78b5d5"/>
<rect x="270.17" y="129.30" width="16.39" height="10.10" fill="#8dc2dc"/>
<rect x="286.56" y="129.30" width="16.39" height="10.10" fill="#78b5d5"/>
<rect x="302.95" y="129.30" width="16.39" height="10.10" fill="#bfdceb"/>
<rect x="319.34" y="129.30" width="16.39" height="10.10" fill="#3e8cbf"/>
<rect x="335.73" y="129.30" width="16.39" height="10.10" fill="#8dc2dc"/>
<rect x="352.12" y="129.30" width="16.39" height="10.10" fill="#3f8ec1"/>
<rect x="368.51" y="129.30" width="16.39" height="10.10" fill="#f2a07e"/>
<rect x="384.90" y="129.30" width="16.39" height="10.10" fill="#f6af8f"/>
<rect x="401.29" y="129.30" width="16.39" height="10.10" fill="#ea8e71"/>
<rect x="417.68" y="129.30" width="16.39" height="10.10" fill="#ea8e71"/>
<rect x="434.07" y="129.30" width="16.39" height="10.10" fill="#facbb3"/>
<rect x="450.46" y="129.30" width="16.39" height="10.10" fill="#64a8ce"/>
<rect x="466.85" y="129.30" width="16.39" height="10.10" fill="#facbb3"/>
<rect x="483.24" y="129.30" width="16.39" height="10.10" fill="#ea8e71"/>
<rect x="499.63" y="129.30" width="16.39" height="10.10" fill="#ea8e71"/>
<rect x="516.02" y="129.30" width="16.39" height="10.10" fill="#dbe5ec"/>
<rect x="532.41" y="129.30" width="16.39" height="10.10" fill="#e27d63"/>
<rect x="548.80" y="129.30" width="16.39" height="10.10" fill="#ea8e71"/>
<rect x="565.19" y="129.30" width="16.39" height="10.10" fill="#f8bda1"/>
<rect x="581.58" y="129.30" width="16.39" height="10.10" fill="#e6e6e8"/>
<rect x="597.97" y="129.30" width="16.39" height="10.10" fill="#16518e"/>
<rect x="614.36" y="129.30" width="16.39" height="10.10" fill="#dbe5ec"/>
<rect x="630.75" y="129.30" width="16.39" height="10.10" fill="#78b5d5"/>
<rect x="647.14" y="129.30" width="16.39" height="10.10" fill="#4f9bc7"/>
<rect x="663.53" y="129.30" width="16.39" height="10.10" fill="#dbe5ec"/>
<rect x="57.10" y="139.40" width="16.39" height="10.10" fill="#d6e5ee"/>
<rect x="73.49" y="139.40" width="16.39" height="10.10" fill="#e27d63"/>
<rect x="89.88" y="139.40" width="16.39" height="10.10" fill="#d6e5ee"/>
<rect x="106.27" y="139.40" width="16.39" height="10.10" fill="#d6e5ee"/>
<rect x="122.66" y="139.40" width="16.39" height="10.10" fill="#aed3e6"/>
<rect x="139.05" y="139.40" width="16.39" height="10.10" fill="#9ecbe1"/>
<rect x="155.44" y="139.40" width="16.39" height="10.10" fill="#ece3df"/>
<rect x="171.83" y="139.40" width="16.39" height="10.10" fill="#f8ddce"/>
<rect x="188.22" y="139.40" width="16.39" height="10.10" fill="#facbb3"/>
<rect x="204.61" y="139.40" width="16.39" height="10.10" fill="#d6e5ee"/>
<rect x="221.00" y="139.40" width="16.39" height="10.10" fill="#bfdceb"/>
<rect x="237.39" y="139.40" width="16.39" height="10.10" fill="#ea8e71"/>
<rect x="253.78" y="139.40" width="16.39" height="10.10" fill="#ea8e71"/>
<rect x="270.17" y="139.40" width="16.39" height="10.10" fill="#e6e6e8"/>
<rect x="286.56" y="139.40" width="16.39" height="10.10" fill="#d25949"/>
<rect x="302.95" y="139.40" width="16.39" height="10.10" fill="#e6e6e8"/>
<rect x="319.34" y="139.40" width="16.39" height="10.10" fill="#ea8e71"/>
<rect x="335.73" y="139.40" width="16.39" height="10.10" fill="#810823"/>
<rect x="352.12" y="139.40" width="16.39" height="10.10" fill="#f8ddce"/>
<rect x="368.51" y="139.40" width="16.39" height="10.10" fill="#f2a07e"/>
<rect x="384.90" y="139.40" width="16.39" height="10.10" fill="#dbe5ec"/>
<rect x="401.29" y="139.40" width="16.39" height="10.10" fill="#fdd9c5"/>
<rect x="417.68" y="139.40" width="16.39" height="10.10" fill="#cfe4ef"/>
<rect x="434.07" y="139.40" width="16.39" height="10.10" fill="#ece3df"/>
<rect x="450.46" y="139.40" width="16.39" height="10.10" fill="#d6e5ee"/>
<rect x="466.85" y="139.40" width="16.39" height="10.10" fill="#d6e5ee"/>
<rect x="483.24" y="139.40" width="16.39" height="10.10" fill="#fdd9c5"/>
<rect x="499.63" y="139.40" width="16.39" height="10.10" fill="#f6af8f"/>
<rect x="516.02" y="139.40" width="16.39" height="10.10" fill="#f8ddce"/>
<rect x="532.41" y="139.40" width="16.39" height="10.10" fill="#f8ddce"/>
<rect x="548.80" y="139.40" width="16.39" height="10.10" fill="#cfe4ef"/>
<rect x="565.19" y="139.40" width="16.39" height="10.10" fill="#d6e5ee"/>
<rect x="581.58" y="139.40" width="16.39" height="10.10" fill="#aed3e6"/>
<rect x="597.97" y="139.40" width="16.39" height="10.10" fill="#2c75b4"/>
<rect x="614.36" y="139.40" width="16.39" height="10.10" fill="#3580b9"/>
<rect x="630.75" y="139.40" width="16.39" height="10.10" fill="#3e8cbf"/>
<rect x="647.14" y="139.40" width="16.39" height="10.10" fill="#4f9bc7"/>
<rect x="663.53" y="139.40" width="16.39" height="10.10" fill="#8dc2dc"/>
<rect x="57.10" y="149.51" width="16.39" height="10.10" fill="#f2e0d7"/>
<rect x="73.49" y="149.51" width="16.39" height="10.10" fill="#cfe4ef"/>
<rect x="89.88" y="149.51" width="16.39" height="10.10" fill="#f8ddce"/>
<rect x="106.27" y="149.51" width="16.39" height="10.10" fill="#2369ae"/>
<rect x="122.66" y="149.51" width="16.39" height="10.10" fill="#facbb3"/>
<rect x="139.05" y="149.51" width="16.39" height="10.10" fill="#3580b9"/>
<rect x="155.44" y="149.51" width="16.39" height="10.10" fill="#e6e6e8"/>
<rect x="171.83" y="149.51" width="16.39" height="10.10" fill="#4f9bc7"/>
<rect x="188.22" y="149.51" width="16.39" height="10.10" fill="#9ecbe1"/>
<rect x="204.61" y="149.51" width="16.39" height="10.10" fill="#3580b9"/>
<rect x="221.00" y="149.51" width="16.39" height="10.10" fill="#ece3df"/>
<rect x="237.39" y="149.51" width="16.39" height="10.10" fill="#ece3df"/>
<rect x="253.78" y="149.51" width="16.39" height="10.10" fill="#f2e0d7"/>
<rect x="270.17" y="149.51" width="16.39" height="10.10" fill="#e6e6e8"/>
<rect x="286.56" y="149.51" width="16.39" height="10.10" fill="#facbb3"/>
<rect x="302.95" y="149.51" width="16.39" height="10.10" fill="#ece3df"/>
<rect x="319.34" y="149.51" width="16.39" height="10.10" fill="#f2a07e"/>
<rect x="335.73" y="149.51" width="16.39" height="10.10" fill="#fdd9c5"/>
<rect x="352.12" y="149.51" width="16.39" height="10.10" fill="#fdd9c5"/>
<rect x="368.51" y="149.51" width="16.39" height="10.10" fill="#ea8e71"/>
<rect x="384.90" y="149.51" width="16.39" height="10.10" fill="#f8ddce"/>
<rect x="401.29" y="149.51" width="16.39" height="10.10" fill="#3580b9"/>
<rect x="417.68" y="149.51" width="16.39" height="10.10" fill="#2c75b4"/>
<rect x="434.07" y="149.51" width="16.39" height="10.10" fill="#f8ddce"/>
<rect x="450.46" y="149.51" width="16.39" height="10.10" fill="#c94641"/>
<rect x="466.85" y="149.51" width="16.39" height="10.10" fill="#f6af8f"/>
<rect x="483.24" y="149.51" width="16.39" height="10.10" fill="#f8bda1"/>
<rect x="499.63" y="149.51" width="16.39" height="10.10" fill="#8dc2dc"/>
<rect x="516.02" y="149.51" width="16.39" height="10.10" fill="#ea8e71"/>
<rect x="532.41" y="149.51" width="16.39" height="10.10" fill="#f8ddce"/>
<rect x="548.80" y="149.51" width="16.39" height="10.10" fill="#8dc2dc"/>
<rect x="565.19" y="149.51" width="16.39" height="10.10" fill="#e6e6e8"/>
<rect x="581.58" y="149.51" width="16.39" height="10.10" fill="#fdd9c5"/>
<rect x="597.97" y="149.51" width="16.39" height="10.10" fill="#d25949"/>
<rect x="614.36" y="149.51" width="16.39" height="10.10" fill="#bfdceb"/>
<rect x="630.75" y="149.51" width="16.39" height="10.10" fill="#f6af8f"/>
<rect x="647.14" y="149.51" width="16.39" height="10.10" fill="#f2a07e"/>
<rect x="663.53" y="149.51" width="16.39" height="10.10" fill="#f8ddce"/>
<rect x="57.10" y="159.61" width="16.39" height="10.10" fill="#3580b9"/>
<rect x="73.49" y="159.61" width="16.39" height="10.10" fill="#3e8cbf"/>
<rect x="89.88" y="159.61" width="16.39" height="10.10" fill="#4f9bc7"/>
<rect x="106.27" y="159.61" width="16.39" height="10.10" fill="#64a8ce"/>
<rect x="122.66" y="159.61" width="16.39" height="10.10" fill="#78b5d5"/>
<rect x="139.05" y="159.61" width="16.39" height="10.10" fill="#78b5d5"/>
<rect x="155.44" y="159.61" width="16.39" height="10.10" fill="#78b5d5"/>
<rect x="171.83" y="159.61" width="16.39" height="10.10" fill="#78b5d5"/>
<rect x="188.22" y="159.61" width="16.39" height="10.10" fill="#78b5d5"/>
<rect x="204.61" y="159.61" width="16.39" height="10.10" fill="#8dc2dc"/>
<rect x="221.00" y="159.61" width="16.39" height="10.10" fill="#9ecbe1"/>
<rect x="237.39" y="159.61" width="16.39" height="10.10" fill="#cfe4ef"/>
<rect x="253.78" y="159.61" width="16.39" height="10.10" fill="#bfdceb"/>
<rect x="270.17" y="159.61" width="16.39" height="10.10" fill="#d6e5ee"/>
<rect x="286.56" y="159.61" width="16.39" height="10.10" fill="#d6e5ee"/>
<rect x="302.95" y="159.61" width="16.39" height="10.10" fill="#bfdceb"/>
<rect x="319.34" y="159.61" width="16.39" height="10.10" fill="#dbe5ec"/>
<rect x="335.73" y="159.61" width="16.39" height="10.10" fill="#ece3df"/>
<rect x="352.12" y="159.61" width="16.39" height="10.10" fill="#ece3df"/>
<rect x="368.51" y="159.61" width="16.39" height="10.10" fill="#9ecbe1"/>
<rect x="384.90" y="159.61" width="16.39" height="10.10" fill="#78b5d5"/>
<rect x="401.29" y="159.61" width="16.39" height="10.10" fill="#ece3df"/>
<rect x="417.68" y="159.61" width="16.39" height="10.10" fill="#f2a07e"/>
<rect x="434.07" y="159.61" width="16.39" height="10.10" fill="#f2a07e"/>
<rect x="450.46" y="159.61" width="16.39" height="10.10" fill="#f6af8f"/>
<rect x="466.85" y="159.61" width="16.39" height="10.10" fill="#f6af8f"/>
<rect x="483.24" y="159.61" width="16.39" height="10.10" fill="#f6af8f"/>
<rect x="499.63" y="159.61" width="16.39" height="10.10" fill="#f6af8f"/>
<rect x="516.02" y="159.61" width="16.39" height="10.10" fill="#f6af8f"/>
<rect x="532.41" y="159.61" width="16.39" height="10.10" fill="#f6af8f"/>
<rect x="548.80" y="159.61" width="16.39" height="10.10" fill="#f6af8f"/>
<rect x="565.19" y="159.61" width="16.39" height="10.10" fill="#ea8e71"/>
<rect x="581.58" y="159.61" width="16.39" height="10.10" fill="#ea8e71"/>
<rect x="597.97" y="159.61" width="16.39" height="10.10" fill="#f2a07e"/>
<rect x="614.36" y="159.61" width="16.39" height="10.10" fill="#e27d63"/>
<rect x="630.75" y="159.61" width="16.39" height="10.10" fill="#ea8e71"/>
<rect x="647.14" y="159.61" width="16.39" height="10.10" fill="#db6b55"/>
<rect x="663.53" y="159.61" width="16.39" height="10.10" fill="#d25949"/>
<rect x="57.10" y="169.71" width="16.39" height="10.10" fill="#2c75b4"/>
<rect x="73.49" y="169.71" width="16.39" height="10.10" fill="#3e8cbf"/>
<rect x="89.88" y="169.71" width="16.39" height="10.10" fill="#4f9bc7"/>
<rect x="106.27" y="169.71" width="16.39" height="10.10" fill="#8dc2dc"/>
<rect x="122.66" y="169.71" width="16.39" height="10.10" fill="#8dc2dc"/>
<rect x="139.05" y="169.71" width="16.39" height="10.10" fill="#64a8ce"/>
<rect x="155.44" y="169.71" width="16.39" height="10.10" fill="#8dc2dc"/>
<rect x="171.83" y="169.71" width="16.39" height="10.10" fill="#78b5d5"/>
<rect x="188.22" y="169.71" width="16.39" height="10.10" fill="#78b5d5"/>
<rect x="204.61" y="169.71" width="16.39" height="10.10" fill="#8dc2dc"/>
<rect x="221.00" y="169.71" width="16.39" height="10.10" fill="#aed3e6"/>
<rect x="237.39" y="169.71" width="16.39" height="10.10" fill="#cfe4ef"/>
<rect x="253.78" y="169.71" width="16.39" height="10.10" fill="#bfdceb"/>
<rect x="270.17" y="169.71" width="16.39" height="10.10" fill="#dbe5ec"/>
<rect x="286.56" y="169.71" width="16.39" height="10.10" fill="#e6e6e8"/>
<rect x="302.95" y="169.71" width="16.39" height="10.10" fill="#cfe4ef"/>
<rect x="319.34" y="169.71" width="16.39" height="10.10" fill="#e6e6e8"/>
<rect x="335.73" y="169.71" width="16.39" height="10.10" fill="#ece3df"/>
<rect x="352.12" y="169.71" width="16.39" height="10.10" fill="#ece3df"/>
<rect x="368.51" y="169.71" width="16.39" height="10.10" fill="#64a8ce"/>
<rect x="384.90" y="169.71" width="16.39" height="10.10" fill="#bfdceb"/>
<rect x="401.29" y="169.71" width="16.39" height="10.10" fill="#facbb3"/>
<rect x="417.68" y="169.71" width="16.39" height="10.10" fill="#ea8e71"/>
<rect x="434.07" y="169.71" width="16.39" height="10.10" fill="#f2a07e"/>
<rect x="450.46" y="169.71" width="16.39" height="10.10" fill="#f8bda1"/>
<rect x="466.85" y="169.71" width="16.39" height="10.10" fill="#f6af8f"/>
<rect x="483.24" y="169.71" width="16.39" height="10.10" fill="#f8ddce"/>
<rect x="499.63" y="169.71" width="16.39" height="10.10" fill="#f6af8f"/>
<rect x="516.02" y="169.71" width="16.39" height="10.10" fill="#f8bda1"/>
<rect x="532.41" y="169.71" width="16.39" height="10.10" fill="#f6af8f"/>
<rect x="548.80" y="169.71" width="16.39" height="10.10" fill="#f8bda1"/>
<rect x="565.19" y="169.71" width="16.39" height="10.10" fill="#f2a07e"/>
<rect x="581.58" y="169.71" width="16.39" height="10.10" fill="#d25949"/>
<rect x="597.97" y="169.71" width="16.39" height="10.10" fill="#f2a07e"/>
<rect x="614.36" y="169.71" width="16.39" height="10.10" fill="#d25949"/>
<rect x="630.75" y="169.71" width="16.39" height="10.10" fill="#ea8e71"/>
<rect x="647.14" y="169.71" width="16.39" height="10.10" fill="#f2a07e"/>
<rect x="663.53" y="169.71" width="16.39" height="10.10" fill="#ea8e71"/>
<rect x="57.10" y="179.82" width="16.39" height="10.10" fill="#64a8ce"/>
<rect x="73.49" y="179.82" width="16.39" height="10.10" fill="#8dc2dc"/>
<rect x="89.88" y="179.82" width="16.39" height="10.10" fill="#8dc2dc"/>
<rect x="106.27" y="179.82" width="16.39" height="10.10" fill="#78b5d5"/>
<rect x="122.66" y="179.82" width="16.39" height="10.10" fill="#78b5d5"/>
<rect x="139.05" y="179.82" width="16.39" height="10.10" fill="#8dc2dc"/>
<rect x="155.44" y="179.82" width="16.39" height="10.10" fill="#8dc2dc"/>
<rect x="171.83" y="179.82" width="16.39" height="10.10" fill="#aed3e6"/>
<rect x="188.22" y="179.82" width="16.39" height="10.10" fill="#9ecbe1"/>
<rect x="204.61" y="179.82" width="16.39" height="10.10" fill="#9ecbe1"/>
<rect x="221.00" y="179.82" width="16.39" height="10.10" fill="#9ecbe1"/>
<rect x="237.39" y="179.82" width="16.39" height="10.10" fill="#aed3e6"/>
<rect x="253.78" y="179.82" width="16.39" height="10.10" fill="#8dc2dc"/>
<rect x="270.17" y="179.82" width="16.39" height="10.10" fill="#8dc2dc"/>
<rect x="286.56" y="179.82" width="16.39" height="10.10" fill="#8dc2dc"/>
<rect x="302.95" y="179.82" width="16.39" height="10.10" fill="#78b5d5"/>
<rect x="319.34" y="179.82" width="16.39" height="10.10" fill="#8dc2dc"/>
<rect x="335.73" y="179.82" width="16.39" height="10.10" fill="#8dc2dc"/>
<rect x="352.12" y="179.82" width="16.39" height="10.10" fill="#78b5d5"/>
<rect x="368.51" y="179.82" width="16.39" height="10.10" fill="#fdd9c5"/>
<rect x="384.90" y="179.82" width="16.39" height="10.10" fill="#fdd9c5"/>
<rect x="401.29" y="179.82" width="16.39" height="10.10" fill="#f6af8f"/>
<rect x="417.68" y="179.82" width="16.39" height="10.10" fill="#f2a07e"/>
<rect x="434.07" y="179.82" width="16.39" height="10.10" fill="#f2a07e"/>
<rect x="450.46" y="179.82" width="16.39" height="10.10" fill="#ea8e71"/>
<rect x="466.85" y="179.82" width="16.39" height="10.10" fill="#e27d63"/>
<rect x="483.24" y="179.82" width="16.39" height="10.10" fill="#ea8e71"/>
<rect x="499.63" y="179.82" width="16.39" height="10.10" fill="#e27d63"/>
<rect x="516.02" y="179.82" width="16.39" height="10.10" fill="#e27d63"/>
<rect x="532.41" y="179.82" width="16.39" height="10.10" fill="#e27d63"/>
<rect x="548.80" y="179.82" width="16.39" height="10.10" fill="#e27d63"/>
<rect x="565.19" y="179.82" width="16.39" height="10.10" fill="#f6af8f"/>
<rect x="581.58" y="179.82" width="16.39" height="10.10" fill="#f8bda1"/>
<rect x="597.97" y="179.82" width="16.39" height="10.10" fill="#fdd9c5"/>
<rect x="614.36" y="179.82" width="16.39" height="10.10" fill="#f8bda1"/>
<rect x="630.75" y="179.82" width="16.39" height="10.10" fill="#f8bda1"/>
<rect x="647.14" y="179.82" width="16.39" height="10.10" fill="#f8bda1"/>
<rect x="663.53" y="179.82" width="16.39" height="10.10" fill="#f8bda1"/>
<rect x="57.10" y="189.92" width="16.39" height="10.10" fill="#4f9bc7"/>
<rect x="73.49" y="189.92" width="16.39" height="10.10" fill="#9ecbe1"/>
<rect x="89.88" y="189.92" width="16.39" height="10.10" fill="#aed3e6"/>
<rect x="106.27" y="189.92" width="16.39" height="10.10" fill="#78b5d5"/>
<rect x="122.66" y="189.92" width="16.39" height="10.10" fill="#4f9bc7"/>
<rect x="139.05" y="189.92" width="16.39" height="10.10" fill="#64a8ce"/>
<rect x="155.44" y="189.92" width="16.39" height="10.10" fill="#78b5d5"/>
<rect x="171.83" y="189.92" width="16.39" height="10.10" fill="#8dc2dc"/>
<rect x="188.22" y="189.92" width="16.39" height="10.10" fill="#8dc2dc"/>
<rect x="204.61" y="189.92" width="16.39" height="10.10" fill="#8dc2dc"/>
<rect x="221.00" y="189.92" width="16.39" height="10.10" fill="#9ecbe1"/>
<rect x="237.39" y="189.92" width="16.39" height="10.10" fill="#aed3e6"/>
<rect x="253.78" y="189.92" width="16.39" height="10.10" fill="#8dc2dc"/>
<rect x="270.17" y="189.92" width="16.39" height="10.10" fill="#8dc2dc"/>
<rect x="286.56" y="189.92" width="16.39" height="10.10" fill="#9ecbe1"/>
<rect x="302.95" y="189.92" width="16.39" height="10.10" fill="#8dc2dc"/>
<rect x="319.34" y="189.92" width="16.39" height="10.10" fill="#8dc2dc"/>
<rect x="335.73" y="189.92" width="16.39" height="10.10" fill="#aed3e6"/>
<rect x="352.12" y="189.92" width="16.39" height="10.10" fill="#8dc2dc"/>
<rect x="368.51" y="189.92" width="16.39" height="10.10" fill="#f2e0d7"/>
<rect x="384.90" y="189.92" width="16.39" height="10.10" fill="#fdd9c5"/>
<rect x="401.29" y="189.92" width="16.39" height="10.10" fill="#f6af8f"/>
<rect x="417.68" y="189.92" width="16.39" height="10.10" fill="#ea8e71"/>
<rect x="434.07" y="189.92" width="16.39" height="10.10" fill="#f2a07e"/>
<rect x="450.46" y="189.92" width="16.39" height="10.10" fill="#f2a07e"/>
<rect x="466.85" y="189.92" width="16.39" height="10.10" fill="#ea8e71"/>
<rect x="483.24" y="189.92" width="16.39" height="10.10" fill="#ea8e71"/>
<rect x="499.63" y="189.92" width="16.39" height="10.10" fill="#ea8e71"/>
<rect x="516.02" y="189.92" width="16.39" height="10.10" fill="#e27d63"/>
<rect x="532.41" y="189.92" width="16.39" height="10.10" fill="#ea8e71"/>
<rect x="548.80" y="189.92" width="16.39" height="10.10" fill="#ea8e71"/>
<rect x="565.19" y="189.92" width="16.39" height="10.10" fill="#f2a07e"/>
<rect x="581.58" y="189.92" width="16.39" height="10.10" fill="#f6af8f"/>
<rect x="597.97" y="189.92" width="16.39" height="10.10" fill="#facbb3"/>
<rect x="614.36" y="189.92" width="16.39" height="10.10" fill="#f6af8f"/>
<rect x="630.75" y="189.92" width="16.39" height="10.10" fill="#f6af8f"/>
<rect x="647.14" y="189.92" width="16.39" height="10.10" fill="#f6af8f"/>
<rect x="663.53" y="189.92" width="16.39" height="10.10" fill="#ea8e71"/>
<rect x="57.10" y="200.03" width="16.39" height="10.10" fill="#3f8ec1"/>
<rect x="73.49" y="200.03" width="16.39" height="10.10" fill="#4f9bc7"/>
<rect x="89.88" y="200.03" width="16.39" height="10.10" fill="#4f9bc7"/>
<rect x="106.27" y="200.03" width="16.39" height="10.10" fill="#8dc2dc"/>
<rect x="122.66" y="200.03" width="16.39" height="10.10" fill="#78b5d5"/>
<rect x="139.05" y="200.03" width="16.39" height="10.10" fill="#64a8ce"/>
<rect x="155.44" y="200.03" width="16.39" height="10.10" fill="#bfdceb"/>
<rect x="171.83" y="200.03" width="16.39" height="10.10" fill="#aed3e6"/>
<rect x="188.22" y="200.03" width="16.39" height="10.10" fill="#78b5d5"/>
<rect x="204.61" y="200.03" width="16.39" height="10.10" fill="#aed3e6"/>
<rect x="221.00" y="200.03" width="16.39" height="10.10" fill="#aed3e6"/>
<rect x="237.39" y="200.03" width="16.39" height="10.10" fill="#8dc2dc"/>
<rect x="253.78" y="200.03" width="16.39" height="10.10" fill="#aed3e6"/>
<rect x="270.17" y="200.03" width="16.39" height="10.10" fill="#aed3e6"/>
<rect x="286.56" y="200.03" width="16.39" height="10.10" fill="#9ecbe1"/>
<rect x="302.95" y="200.03" width="16.39" height="10.10" fill="#8dc2dc"/>
<rect x="319.34" y="200.03" width="16.39" height="10.10" fill="#8dc2dc"/>
<rect x="335.73" y="200.03" width="16.39" height="10.10" fill="#aed3e6"/>
<rect x="352.12" y="200.03" width="16.39" height="10.10" fill="#aed3e6"/>
<rect x="368.51" y="200.03" width="16.39" height="10.10" fill="#f8ddce"/>
<rect x="384.90" y="200.03" width="16.39" height="10.10" fill="#f2e0d7"/>
<rect x="401.29" y="200.03" width="16.39" height="10.10" fill="#fdd9c5"/>
<rect x="417.68" y="200.03" width="16.39" height="10.10" fill="#f2a07e"/>
<rect x="434.07" y="200.03" width="16.39" height="10.10" fill="#f2a07e"/>
<rect x="450.46" y="200.03" width="16.39" height="10.10" fill="#f6af8f"/>
<rect x="466.85" y="200.03" width="16.39" height="10.10" fill="#db6b55"/>
<rect x="483.24" y="200.03" width="16.39" height="10.10" fill="#e27d63"/>
<rect x="499.63" y="200.03" width="16.39" height="10.10" fill="#e27d63"/>
<rect x="516.02" y="200.03" width="16.39" height="10.10" fill="#d25949"/>
<rect x="532.41" y="200.03" width="16.39" height="10.10" fill="#e27d63"/>
<rect x="548.80" y="200.03" width="16.39" height="10.10" fill="#ea8e71"/>
<rect x="565.19" y="200.03" width="16.39" height="10.10" fill="#f6af8f"/>
<rect x="581.58" y="200.03" width="16.39" height="10.10" fill="#f6af8f"/>
<rect x="597.97" y="200.03" width="16.39" height="10.10" fill="#f8bda1"/>
<rect x="614.36" y="200.03" width="16.39" height="10.10" fill="#f8bda1"/>
<rect x="630.75" y="200.03" width="16.39" height="10.10" fill="#f8bda1"/>
<rect x="647.14" y="200.03" width="16.39" height="10.10" fill="#fdd9c5"/>
<rect x="663.53" y="200.03" width="16.39" height="10.10" fill="#facbb3"/>
<rect x="57.10" y="210.13" width="16.39" height="10.10" fill="#3580b9"/>
<rect x="73.49" y="210.13" width="16.39" height="10.10" fill="#3f8ec1"/>
<rect x="89.88" y="210.13" width="16.39" height="10.10" fill="#78b5d5"/>
<rect x="106.27" y="210.13" width="16.39" height="10.10" fill="#78b5d5"/>
<rect x="122.66" y="210.13" width="16.39" height="10.10" fill="#8dc2dc"/>
<rect x="139.05" y="210.13" width="16.39" height="10.10" fill="#78b5d5"/>
<rect x="155.44" y="210.13" width="16.39" height="10.10" fill="#bfdceb"/>
<rect x="171.83" y="210.13" width="16.39" height="10.10" fill="#aed3e6"/>
<rect x="188.22" y="210.13" width="16.39" height="10.10" fill="#78b5d5"/>
<rect x="204.61" y="210.13" width="16.39" height="10.10" fill="#9ecbe1"/>
<rect x="221.00" y="210.13" width="16.39" height="10.10" fill="#aed3e6"/>
<rect x="237.39" y="210.13" width="16.39" height="10.10" fill="#8dc2dc"/>
<rect x="253.78" y="210.13" width="16.39" height="10.10" fill="#cfe4ef"/>
<rect x="270.17" y="210.13" width="16.39" height="10.10" fill="#cfe4ef"/>
<rect x="286.56" y="210.13" width="16.39" height="10.10" fill="#aed3e6"/>
<rect x="302.95" y="210.13" width="16.39" height="10.10" fill="#aed3e6"/>
<rect x="319.34" y="210.13" width="16.39" height="10.10" fill="#aed3e6"/>
<rect x="335.73" y="210.13" width="16.39" height="10.10" fill="#aed3e6"/>
<rect x="352.12" y="210.13" width="16.39" height="10.10" fill="#9ecbe1"/>
<rect x="368.51" y="210.13" width="16.39" height="10.10" fill="#cfe4ef"/>
<rect x="384.90" y="210.13" width="16.39" height="10.10" fill="#e6e6e8"/>
<rect x="401.29" y="210.13" width="16.39" height="10.10" fill="#fdd9c5"/>
<rect x="417.68" y="210.13" width="16.39" height="10.10" fill="#f2a07e"/>
<rect x="434.07" y="210.13" width="16.39" height="10.10" fill="#f2a07e"/>
<rect x="450.46" y="210.13" width="16.39" height="10.10" fill="#ea8e71"/>
<rect x="466.85" y="210.13" width="16.39" height="10.10" fill="#ea8e71"/>
<rect x="483.24" y="210.13" width="16.39" height="10.10" fill="#f2a07e"/>
<rect x="499.63" y="210.13" width="16.39" height="10.10" fill="#ea8e71"/>
<rect x="516.02" y="210.13" width="16.39" height="10.10" fill="#ea8e71"/>
<rect x="532.41" y="210.13" width="16.39" height="10.10" fill="#e27d63"/>
<rect x="548.80" y="210.13" width="16.39" height="10.10" fill="#ea8e71"/>
<rect x="565.19" y="210.13" width="16.39" height="10.10" fill="#f6af8f"/>
<rect x="581.58" y="210.13" width="16.39" height="10.10" fill="#f6af8f"/>
<rect x="597.97" y="210.13" width="16.39" height="10.10" fill="#f8bda1"/>
<rect x="614.36" y="210.13" width="16.39" height="10.10" fill="#f6af8f"/>
<rect x="630.75" y="210.13" width="16.39" height="10.10" fill="#f6af8f"/>
<rect x="647.14" y="210.13" width="16.39" height="10.10" fill="#f8bda1"/>
<rect x="663.53" y="210.13" width="16.39" height="10.10" fill="#f8bda1"/>
<rect x="57.10" y="220.23" width="16.39" height="10.10" fill="#bfdceb"/>
<rect x="73.49" y="220.23" width="16.39" height="10.10" fill="#dbe5ec"/>
<rect x="89.88" y="220.23" width="16.39" height="10.10" fill="#9ecbe1"/>
<rect x="106.27" y="220.23" width="16.39" height="10.10" fill="#78b5d5"/>
<rect x="122.66" y="220.23" width="16.39" height="10.10" fill="#78b5d5"/>
<rect x="139.05" y="220.23" width="16.39" height="10.10" fill="#3580b9"/>
<rect x="155.44" y="220.23" width="16.39" height="10.10" fill="#9ecbe1"/>
<rect x="171.83" y="220.23" width="16.39" height="10.10" fill="#8dc2dc"/>
<rect x="188.22" y="220.23" width="16.39" height="10.10" fill="#4f9bc7"/>
<rect x="204.61" y="220.23" width="16.39" height="10.10" fill="#78b5d5"/>
<rect x="221.00" y="220.23" width="16.39" height="10.10" fill="#8dc2dc"/>
<rect x="237.39" y="220.23" width="16.39" height="10.10" fill="#78b5d5"/>
<rect x="253.78" y="220.23" width="16.39" height="10.10" fill="#dbe5ec"/>
<rect x="270.17" y="220.23" width="16.39" height="10.10" fill="#d6e5ee"/>
<rect x="286.56" y="220.23" width="16.39" height="10.10" fill="#9ecbe1"/>
<rect x="302.95" y="220.23" width="16.39" height="10.10" fill="#9ecbe1"/>
<rect x="319.34" y="220.23" width="16.39" height="10.10" fill="#8dc2dc"/>
<rect x="335.73" y="220.23" width="16.39" height="10.10" fill="#78b5d5"/>
<rect x="352.12" y="220.23" width="16.39" height="10.10" fill="#78b5d5"/>
<rect x="368.51" y="220.23" width="16.39" height="10.10" fill="#ea8e71"/>
<rect x="384.90" y="220.23" width="16.39" height="10.10" fill="#f2a07e"/>
<rect x="401.29" y="220.23" width="16.39" height="10.10" fill="#f2a07e"/>
<rect x="417.68" y="220.23" width="16.39" height="10.10" fill="#f2a07e"/>
<rect x="434.07" y="220.23" width="16.39" height="10.10" fill="#f2a07e"/>
<rect x="450.46" y="220.23" width="16.39" height="10.10" fill="#ea8e71"/>
<rect x="466.85" y="220.23" width="16.39" height="10.10" fill="#ea8e71"/>
<rect x="483.24" y="220.23" width="16.39" height="10.10" fill="#ea8e71"/>
<rect x="499.63" y="220.23" width="16.39" height="10.10" fill="#ea8e71"/>
<rect x="516.02" y="220.23" width="16.39" height="10.10" fill="#ea8e71"/>
<rect x="532.41" y="220.23" width="16.39" height="10.10" fill="#f6af8f"/>
<rect x="548.80" y="220.23" width="16.39" height="10.10" fill="#f8bda1"/>
<rect x="565.19" y="220.23" width="16.39" height="10.10" fill="#e27d63"/>
<rect x="581.58" y="220.23" width="16.39" height="10.10" fill="#ea8e71"/>
<rect x="597.97" y="220.23" width="16.39" height="10.10" fill="#facbb3"/>
<rect x="614.36" y="220.23" width="16.39" height="10.10" fill="#facbb3"/>
<rect x="630.75" y="220.23" width="16.39" height="10.10" fill="#f8bda1"/>
<rect x="647.14" y="220.23" width="16.39" height="10.10" fill="#fdd9c5"/>
<rect x="663.53" y="220.23" width="16.39" height="10.10" fill="#f6af8f"/>
<rect x="57.10" y="230.34" width="16.39" height="10.10" fill="#64a8ce"/>
<rect x="73.49" y="230.34" width="16.39" height="10.10" fill="#8dc2dc"/>
<rect x="89.88" y="230.34" width="16.39" height="10.10" fill="#78b5d5"/>
<rect x="106.27" y="230.34" width="16.39" height="10.10" fill="#64a8ce"/>
<rect x="122.66" y="230.34" width="16.39" height="10.10" fill="#64a8ce"/>
<rect x="139.05" y="230.34" width="16.39" height="10.10" fill="#4f9bc7"/>
<rect x="155.44" y="230.34" width="16.39" height="10.10" fill="#8dc2dc"/>
<rect x="171.83" y="230.34" width="16.39" height="10.10" fill="#8dc2dc"/>
<rect x="188.22" y="230.34" width="16.39" height="10.10" fill="#64a8ce"/>
<rect x="204.61" y="230.34" width="16.39" height="10.10" fill="#78b5d5"/>
<rect x="221.00" y="230.34" width="16.39" height="10.10" fill="#8dc2dc"/>
<rect x="237.39" y="230.34" width="16.39" height="10.10" fill="#64a8ce"/>
<rect x="253.78" y="230.34" width="16.39" height="10.10" fill="#ece3df"/>
<rect x="270.17" y="230.34" width="16.39" height="10.10" fill="#e6e6e8"/>
<rect x="286.56" y="230.34" width="16.39" height="10.10" fill="#bfdceb"/>
<rect x="302.95" y="230.34" width="16.39" height="10.10" fill="#9ecbe1"/>
<rect x="319.34" y="230.34" width="16.39" height="10.10" fill="#bfdceb"/>
<rect x="335.73" y="230.34" width="16.39" height="10.10" fill="#9ecbe1"/>
<rect x="352.12" y="230.34" width="16.39" height="10.10" fill="#9ecbe1"/>
<rect x="368.51" y="230.34" width="16.39" height="10.10" fill="#fdd9c5"/>
<rect x="384.90" y="230.34" width="16.39" height="10.10" fill="#facbb3"/>
<rect x="401.29" y="230.34" width="16.39" height="10.10" fill="#f6af8f"/>
<rect x="417.68" y="230.34" width="16.39" height="10.10" fill="#f6af8f"/>
<rect x="434.07" y="230.34" width="16.39" height="10.10" fill="#f6af8f"/>
<rect x="450.46" y="230.34" width="16.39" height="10.10" fill="#ea8e71"/>
<rect x="466.85" y="230.34" width="16.39" height="10.10" fill="#ea8e71"/>
<rect x="483.24" y="230.34" width="16.39" height="10.10" fill="#ea8e71"/>
<rect x="499.63" y="230.34" width="16.39" height="10.10" fill="#ea8e71"/>
<rect x="516.02" y="230.34" width="16.39" height="10.10" fill="#ea8e71"/>
<rect x="532.41" y="230.34" width="16.39" height="10.10" fill="#f6af8f"/>
<rect x="548.80" y="230.34" width="16.39" height="10.10" fill="#f8bda1"/>
<rect x="565.19" y="230.34" width="16.39" height="10.10" fill="#d25949"/>
<rect x="581.58" y="230.34" width="16.39" height="10.10" fill="#e27d63"/>
<rect x="597.97" y="230.34" width="16.39" height="10.10" fill="#f8bda1"/>
<rect x="614.36" y="230.34" width="16.39" height="10.10" fill="#f6af8f"/>
<rect x="630.75" y="230.34" width="16.39" height="10.10" fill="#f6af8f"/>
<rect x="647.14" y="230.34" width="16.39" height="10.10" fill="#facbb3"/>
<rect x="663.53" y="230.34" width="16.39" height="10.10" fill="#f6af8f"/>
<rect x="57.10" y="240.44" width="16.39" height="10.10" fill="#64a8ce"/>
<rect x="73.49" y="240.44" width="16.39" height="10.10" fill="#8dc2dc"/>
<rect x="89.88" y="240.44" width="16.39" height="10.10" fill="#78b5d5"/>
<rect x="106.27" y="240.44" width="16.39" height="10.10" fill="#78b5d5"/>
<rect x="122.66" y="240.44" width="16.39" height="10.10" fill="#64a8ce"/>
<rect x="139.05" y="240.44" width="16.39" height="10.10" fill="#3f8ec1"/>
<rect x="155.44" y="240.44" width="16.39" height="10.10" fill="#8dc2dc"/>
<rect x="171.83" y="240.44" width="16.39" height="10.10" fill="#78b5d5"/>
<rect x="188.22" y="240.44" width="16.39" height="10.10" fill="#78b5d5"/>
<rect x="204.61" y="240.44" width="16.39" height="10.10" fill="#78b5d5"/>
<rect x="221.00" y="240.44" width="16.39" height="10.10" fill="#64a8ce"/>
<rect x="237.39" y="240.44" width="16.39" height="10.10" fill="#8dc2dc"/>
<rect x="253.78" y="240.44" width="16.39" height="10.10" fill="#cfe4ef"/>
<rect x="270.17" y="240.44" width="16.39" height="10.10" fill="#e6e6e8"/>
<rect x="286.56" y="240.44" width="16.39" height="10.10" fill="#9ecbe1"/>
<rect x="302.95" y="240.44" width="16.39" height="10.10" fill="#aed3e6"/>
<rect x="319.34" y="240.44" width="16.39" height="10.10" fill="#aed3e6"/>
<rect x="335.73" y="240.44" width="16.39" height="10.10" fill="#aed3e6"/>
<rect x="352.12" y="240.44" width="16.39" height="10.10" fill="#aed3e6"/>
<rect x="368.51" y="240.44" width="16.39" height="10.10" fill="#f8bda1"/>
<rect x="384.90" y="240.44" width="16.39" height="10.10" fill="#facbb3"/>
<rect x="401.29" y="240.44" width="16.39" height="10.10" fill="#f8bda1"/>
<rect x="417.68" y="240.44" width="16.39" height="10.10" fill="#f2a07e"/>
<rect x="434.07" y="240.44" width="16.39" height="10.10" fill="#f6af8f"/>
<rect x="450.46" y="240.44" width="16.39" height="10.10" fill="#f2a07e"/>
<rect x="466.85" y="240.44" width="16.39" height="10.10" fill="#ea8e71"/>
<rect x="483.24" y="240.44" width="16.39" height="10.10" fill="#f6af8f"/>
<rect x="499.63" y="240.44" width="16.39" height="10.10" fill="#f6af8f"/>
<rect x="516.02" y="240.44" width="16.39" height="10.10" fill="#f2a07e"/>
<rect x="532.41" y="240.44" width="16.39" height="10.10" fill="#ea8e71"/>
<rect x="548.80" y="240.44" width="16.39" height="10.10" fill="#f6af8f"/>
<rect x="565.19" y="240.44" width="16.39" height="10.10" fill="#ea8e71"/>
<rect x="581.58" y="240.44" width="16.39" height="10.10" fill="#ea8e71"/>
<rect x="597.97" y="240.44" width="16.39" height="10.10" fill="#f6af8f"/>
<rect x="614.36" y="240.44" width="16.39" height="10.10" fill="#f6af8f"/>
<rect x="630.75" y="240.44" width="16.39" height="10.10" fill="#ea8e71"/>
<rect x="647.14" y="240.44" width="16.39" height="10.10" fill="#e27d63"/>
<rect x="663.53" y="240.44" width="16.39" height="10.10" fill="#e27d63"/>
<rect x="57.10" y="250.55" width="16.39" height="10.10" fill="#d6e5ee"/>
<rect x="73.49" y="250.55" width="16.39" height="10.10" fill="#ece3df"/>
<rect x="89.88" y="250.55" width="16.39" height="10.10" fill="#78b5d5"/>
<rect x="106.27" y="250.55" width="16.39" height="10.10" fill="#3e8cbf"/>
<rect x="122.66" y="250.55" width="16.39" height="10.10" fill="#3e8cbf"/>
<rect x="139.05" y="250.55" width="16.39" height="10.10" fill="#4f9bc7"/>
<rect x="155.44" y="250.55" width="16.39" height="10.10" fill="#78b5d5"/>
<rect x="171.83" y="250.55" width="16.39" height="10.10" fill="#78b5d5"/>
<rect x="188.22" y="250.55" width="16.39" height="10.10" fill="#9ecbe1"/>
<rect x="204.61" y="250.55" width="16.39" height="10.10" fill="#8dc2dc"/>
<rect x="221.00" y="250.55" width="16.39" height="10.10" fill="#78b5d5"/>
<rect x="237.39" y="250.55" width="16.39" height="10.10" fill="#bfdceb"/>
<rect x="253.78" y="250.55" width="16.39" height="10.10" fill="#9ecbe1"/>
<rect x="270.17" y="250.55" width="16.39" height="10.10" fill="#aed3e6"/>
<rect x="286.56" y="250.55" width="16.39" height="10.10" fill="#8dc2dc"/>
<rect x="302.95" y="250.55" width="16.39" height="10.10" fill="#aed3e6"/>
<rect x="319.34" y="250.55" width="16.39" height="10.10" fill="#9ecbe1"/>
<rect x="335.73" y="250.55" width="16.39" height="10.10" fill="#bfdceb"/>
<rect x="352.12" y="250.55" width="16.39" height="10.10" fill="#dbe5ec"/>
<rect x="368.51" y="250.55" width="16.39" height="10.10" fill="#e27d63"/>
<rect x="384.90" y="250.55" width="16.39" height="10.10" fill="#e27d63"/>
<rect x="401.29" y="250.55" width="16.39" height="10.10" fill="#f8ddce"/>
<rect x="417.68" y="250.55" width="16.39" height="10.10" fill="#e6e6e8"/>
<rect x="434.07" y="250.55" width="16.39" height="10.10" fill="#ece3df"/>
<rect x="450.46" y="250.55" width="16.39" height="10.10" fill="#facbb3"/>
<rect x="466.85" y="250.55" width="16.39" height="10.10" fill="#ea8e71"/>
<rect x="483.24" y="250.55" width="16.39" height="10.10" fill="#f8ddce"/>
<rect x="499.63" y="250.55" width="16.39" height="10.10" fill="#f6af8f"/>
<rect x="516.02" y="250.55" width="16.39" height="10.10" fill="#e27d63"/>
<rect x="532.41" y="250.55" width="16.39" height="10.10" fill="#facbb3"/>
<rect x="548.80" y="250.55" width="16.39" height="10.10" fill="#f6af8f"/>
<rect x="565.19" y="250.55" width="16.39" height="10.10" fill="#e27d63"/>
<rect x="581.58" y="250.55" width="16.39" height="10.10" fill="#f6af8f"/>
<rect x="597.97" y="250.55" width="16.39" height="10.10" fill="#f8ddce"/>
<rect x="614.36" y="250.55" width="16.39" height="10.10" fill="#f6af8f"/>
<rect x="630.75" y="250.55" width="16.39" height="10.10" fill="#f2a07e"/>
<rect x="647.14" y="250.55" width="16.39" height="10.10" fill="#db6b55"/>
<rect x="663.53" y="250.55" width="16.39" height="10.10" fill="#d25949"/>
<rect x="57.10" y="260.65" width="16.39" height="10.10" fill="#64a8ce"/>
<rect x="73.49" y="260.65" width="16.39" height="10.10" fill="#8dc2dc"/>
<rect x="89.88" y="260.65" width="16.39" height="10.10" fill="#78b5d5"/>
<rect x="106.27" y="260.65" width="16.39" height="10.10" fill="#4f9bc7"/>
<rect x="122.66" y="260.65" width="16.39" height="10.10" fill="#3e8cbf"/>
<rect x="139.05" y="260.65" width="16.39" height="10.10" fill="#78b5d5"/>
<rect x="155.44" y="260.65" width="16.39" height="10.10" fill="#78b5d5"/>
<rect x="171.83" y="260.65" width="16.39" height="10.10" fill="#8dc2dc"/>
<rect x="188.22" y="260.65" width="16.39" height="10.10" fill="#aed3e6"/>
<rect x="204.61" y="260.65" width="16.39" height="10.10" fill="#9ecbe1"/>
<rect x="221.00" y="260.65" width="16.39" height="10.10" fill="#bfdceb"/>
<rect x="237.39" y="260.65" width="16.39" height="10.10" fill="#dbe5ec"/>
<rect x="253.78" y="260.65" width="16.39" height="10.10" fill="#78b5d5"/>
<rect x="270.17" y="260.65" width="16.39" height="10.10" fill="#8dc2dc"/>
<rect x="286.56" y="260.65" width="16.39" height="10.10" fill="#8dc2dc"/>
<rect x="302.95" y="260.65" width="16.39" height="10.10" fill="#aed3e6"/>
<rect x="319.34" y="260.65" width="16.39" height="10.10" fill="#aed3e6"/>
<rect x="335.73" y="260.65" width="16.39" height="10.10" fill="#aed3e6"/>
<rect x="352.12" y="260.65" width="16.39" height="10.10" fill="#8dc2dc"/>
<rect x="368.51" y="260.65" width="16.39" height="10.10" fill="#e6e6e8"/>
<rect x="384.90" y="260.65" width="16.39" height="10.10" fill="#f6af8f"/>
<rect x="401.29" y="260.65" width="16.39" height="10.10" fill="#f8ddce"/>
<rect x="417.68" y="260.65" width="16.39" height="10.10" fill="#f2e0d7"/>
<rect x="434.07" y="260.65" width="16.39" height="10.10" fill="#f2e0d7"/>
<rect x="450.46" y="260.65" width="16.39" height="10.10" fill="#facbb3"/>
<rect x="466.85" y="260.65" width="16.39" height="10.10" fill="#ea8e71"/>
<rect x="483.24" y="260.65" width="16.39" height="10.10" fill="#facbb3"/>
<rect x="499.63" y="260.65" width="16.39" height="10.10" fill="#f6af8f"/>
<rect x="516.02" y="260.65" width="16.39" height="10.10" fill="#e27d63"/>
<rect x="532.41" y="260.65" width="16.39" height="10.10" fill="#f2a07e"/>
<rect x="548.80" y="260.65" width="16.39" height="10.10" fill="#d25949"/>
<rect x="565.19" y="260.65" width="16.39" height="10.10" fill="#f2a07e"/>
<rect x="581.58" y="260.65" width="16.39" height="10.10" fill="#ea8e71"/>
<rect x="597.97" y="260.65" width="16.39" height="10.10" fill="#f2a07e"/>
<rect x="614.36" y="260.65" width="16.39" height="10.10" fill="#e27d63"/>
<rect x="630.75" y="260.65" width="16.39" height="10.10" fill="#e27d63"/>
<rect x="647.14" y="260.65" width="16.39" height="10.10" fill="#e27d63"/>
<rect x="663.53" y="260.65" width="16.39" height="10.10" fill="#ea8e71"/>
<rect x="57.10" y="270.75" width="16.39" height="10.10" fill="#facbb3"/>
<rect x="73.49" y="270.75" width="16.39" height="10.10" fill="#6d0220"/>
<rect x="89.88" y="270.75" width="16.39" height="10.10" fill="#f8bda1"/>
<rect x="106.27" y="270.75" width="16.39" height="10.10" fill="#e6e6e8"/>
<rect x="122.66" y="270.75" width="16.39" height="10.10" fill="#ece3df"/>
<rect x="139.05" y="270.75" width="16.39" height="10.10" fill="#cfe4ef"/>
<rect x="155.44" y="270.75" width="16.39" height="10.10" fill="#4f9bc7"/>
<rect x="171.83" y="270.75" width="16.39" height="10.10" fill="#3f8ec1"/>
<rect x="188.22" y="270.75" width="16.39" height="10.10" fill="#78b5d5"/>
<rect x="204.61" y="270.75" width="16.39" height="10.10" fill="#8dc2dc"/>
<rect x="221.00" y="270.75" width="16.39" height="10.10" fill="#aed3e6"/>
<rect x="237.39" y="270.75" width="16.39" height="10.10" fill="#aed3e6"/>
<rect x="253.78" y="270.75" width="16.39" height="10.10" fill="#f8ddce"/>
<rect x="270.17" y="270.75" width="16.39" height="10.10" fill="#f6af8f"/>
<rect x="286.56" y="270.75" width="16.39" height="10.10" fill="#78b5d5"/>
<rect x="302.95" y="270.75" width="16.39" height="10.10" fill="#2c75b4"/>
<rect x="319.34" y="270.75" width="16.39" height="10.10" fill="#64a8ce"/>
<rect x="335.73" y="270.75" width="16.39" height="10.10" fill="#aed3e6"/>
<rect x="352.12" y="270.75" width="16.39" height="10.10" fill="#9ecbe1"/>
<rect x="368.51" y="270.75" width="16.39" height="10.10" fill="#e27d63"/>
<rect x="384.90" y="270.75" width="16.39" height="10.10" fill="#c03338"/>
<rect x="401.29" y="270.75" width="16.39" height="10.10" fill="#f2a07e"/>
<rect x="417.68" y="270.75" width="16.39" height="10.10" fill="#f6af8f"/>
<rect x="434.07" y="270.75" width="16.39" height="10.10" fill="#ea8e71"/>
<rect x="450.46" y="270.75" width="16.39" height="10.10" fill="#e6e6e8"/>
<rect x="466.85" y="270.75" width="16.39" height="10.10" fill="#f8ddce"/>
<rect x="483.24" y="270.75" width="16.39" height="10.10" fill="#f8ddce"/>
<rect x="499.63" y="270.75" width="16.39" height="10.10" fill="#ece3df"/>
<rect x="516.02" y="270.75" width="16.39" height="10.10" fill="#fdd9c5"/>
<rect x="532.41" y="270.75" width="16.39" height="10.10" fill="#e6e6e8"/>
<rect x="548.80" y="270.75" width="16.39" height="10.10" fill="#dbe5ec"/>
<rect x="565.19" y="270.75" width="16.39" height="10.10" fill="#f8ddce"/>
<rect x="581.58" y="270.75" width="16.39" height="10.10" fill="#f8bda1"/>
<rect x="597.97" y="270.75" width="16.39" height="10.10" fill="#cfe4ef"/>
<rect x="614.36" y="270.75" width="16.39" height="10.10" fill="#aed3e6"/>
<rect x="630.75" y="270.75" width="16.39" height="10.10" fill="#cfe4ef"/>
<rect x="647.14" y="270.75" width="16.39" height="10.10" fill="#e6e6e8"/>
<rect x="663.53" y="270.75" width="16.39" height="10.10" fill="#ece3df"/>
<rect x="57.10" y="280.86" width="16.39" height="10.10" fill="#4f9bc7"/>
<rect x="73.49" y="280.86" width="16.39" height="10.10" fill="#f6af8f"/>
<rect x="89.88" y="280.86" width="16.39" height="10.10" fill="#f2a07e"/>
<rect x="106.27" y="280.86" width="16.39" height="10.10" fill="#fdd9c5"/>
<rect x="122.66" y="280.86" width="16.39" height="10.10" fill="#f2e0d7"/>
<rect x="139.05" y="280.86" width="16.39" height="10.10" fill="#ece3df"/>
<rect x="155.44" y="280.86" width="16.39" height="10.10" fill="#64a8ce"/>
<rect x="171.83" y="280.86" width="16.39" height="10.10" fill="#64a8ce"/>
<rect x="188.22" y="280.86" width="16.39" height="10.10" fill="#78b5d5"/>
<rect x="204.61" y="280.86" width="16.39" height="10.10" fill="#aed3e6"/>
<rect x="221.00" y="280.86" width="16.39" height="10.10" fill="#d6e5ee"/>
<rect x="237.39" y="280.86" width="16.39" height="10.10" fill="#d6e5ee"/>
<rect x="253.78" y="280.86" width="16.39" height="10.10" fill="#aed3e6"/>
<rect x="270.17" y="280.86" width="16.39" height="10.10" fill="#e6e6e8"/>
<rect x="286.56" y="280.86" width="16.39" height="10.10" fill="#3e8cbf"/>
<rect x="302.95" y="280.86" width="16.39" height="10.10" fill="#4f9bc7"/>
<rect x="319.34" y="280.86" width="16.39" height="10.10" fill="#64a8ce"/>
<rect x="335.73" y="280.86" width="16.39" height="10.10" fill="#78b5d5"/>
<rect x="352.12" y="280.86" width="16.39" height="10.10" fill="#d6e5ee"/>
<rect x="368.51" y="280.86" width="16.39" height="10.10" fill="#8dc2dc"/>
<rect x="384.90" y="280.86" width="16.39" height="10.10" fill="#e27d63"/>
<rect x="401.29" y="280.86" width="16.39" height="10.10" fill="#f2a07e"/>
<rect x="417.68" y="280.86" width="16.39" height="10.10" fill="#e27d63"/>
<rect x="434.07" y="280.86" width="16.39" height="10.10" fill="#a81529"/>
<rect x="450.46" y="280.86" width="16.39" height="10.10" fill="#f2e0d7"/>
<rect x="466.85" y="280.86" width="16.39" height="10.10" fill="#f6af8f"/>
<rect x="483.24" y="280.86" width="16.39" height="10.10" fill="#fdd9c5"/>
<rect x="499.63" y="280.86" width="16.39" height="10.10" fill="#f2a07e"/>
<rect x="516.02" y="280.86" width="16.39" height="10.10" fill="#ea8e71"/>
<rect x="532.41" y="280.86" width="16.39" height="10.10" fill="#f2a07e"/>
<rect x="548.80" y="280.86" width="16.39" height="10.10" fill="#f8ddce"/>
<rect x="565.19" y="280.86" width="16.39" height="10.10" fill="#facbb3"/>
<rect x="581.58" y="280.86" width="16.39" height="10.10" fill="#ea8e71"/>
<rect x="597.97" y="280.86" width="16.39" height="10.10" fill="#e6e6e8"/>
<rect x="614.36" y="280.86" width="16.39" height="10.10" fill="#facbb3"/>
<rect x="630.75" y="280.86" width="16.39" height="10.10" fill="#cfe4ef"/>
<rect x="647.14" y="280.86" width="16.39" height="10.10" fill="#78b5d5"/>
<rect x="663.53" y="280.86" width="16.39" height="10.10" fill="#9ecbe1"/>
<rect x="57.10" y="290.96" width="16.39" height="10.10" fill="#aed3e6"/>
<rect x="73.49" y="290.96" width="16.39" height="10.10" fill="#f8ddce"/>
<rect x="89.88" y="290.96" width="16.39" height="10.10" fill="#cfe4ef"/>
<rect x="106.27" y="290.96" width="16.39" height="10.10" fill="#78b5d5"/>
<rect x="122.66" y="290.96" width="16.39" height="10.10" fill="#78b5d5"/>
<rect x="139.05" y="290.96" width="16.39" height="10.10" fill="#4f9bc7"/>
<rect x="155.44" y="290.96" width="16.39" height="10.10" fill="#9ecbe1"/>
<rect x="171.83" y="290.96" width="16.39" height="10.10" fill="#aed3e6"/>
<rect x="188.22" y="290.96" width="16.39" height="10.10" fill="#9ecbe1"/>
<rect x="204.61" y="290.96" width="16.39" height="10.10" fill="#8dc2dc"/>
<rect x="221.00" y="290.96" width="16.39" height="10.10" fill="#bfdceb"/>
<rect x="237.39" y="290.96" width="16.39" height="10.10" fill="#cfe4ef"/>
<rect x="253.78" y="290.96" width="16.39" height="10.10" fill="#f8ddce"/>
<rect x="270.17" y="290.96" width="16.39" height="10.10" fill="#f2e0d7"/>
<rect x="286.56" y="290.96" width="16.39" height="10.10" fill="#8dc2dc"/>
<rect x="302.95" y="290.96" width="16.39" height="10.10" fill="#4f9bc7"/>
<rect x="319.34" y="290.96" width="16.39" height="10.10" fill="#8dc2dc"/>
<rect x="335.73" y="290.96" width="16.39" height="10.10" fill="#3580b9"/>
<rect x="352.12" y="290.96" width="16.39" height="10.10" fill="#64a8ce"/>
<rect x="368.51" y="290.96" width="16.39" height="10.10" fill="#ea8e71"/>
<rect x="384.90" y="290.96" width="16.39" height="10.10" fill="#e27d63"/>
<rect x="401.29" y="290.96" width="16.39" height="10.10" fill="#ea8e71"/>
<rect x="417.68" y="290.96" width="16.39" height="10.10" fill="#f6af8f"/>
<rect x="434.07" y="290.96" width="16.39" height="10.10" fill="#ea8e71"/>
<rect x="450.46" y="290.96" width="16.39" height="10.10" fill="#e27d63"/>
<rect x="466.85" y="290.96" width="16.39" height="10.10" fill="#e27d63"/>
<rect x="483.24" y="290.96" width="16.39" height="10.10" fill="#e27d63"/>
<rect x="499.63" y="290.96" width="16.39" height="10.10" fill="#db6b55"/>
<rect x="516.02" y="290.96" width="16.39" height="10.10" fill="#ea8e71"/>
<rect x="532.41" y="290.96" width="16.39" height="10.10" fill="#f8bda1"/>
<rect x="548.80" y="290.96" width="16.39" height="10.10" fill="#f6af8f"/>
<rect x="565.19" y="290.96" width="16.39" height="10.10" fill="#d25949"/>
<rect x="581.58" y="290.96" width="16.39" height="10.10" fill="#bfdceb"/>
<rect x="597.97" y="290.96" width="16.39" height="10.10" fill="#9ecbe1"/>
<rect x="614.36" y="290.96" width="16.39" height="10.10" fill="#8dc2dc"/>
<rect x="630.75" y="290.96" width="16.39" height="10.10" fill="#aed3e6"/>
<rect x="647.14" y="290.96" width="16.39" height="10.10" fill="#9ecbe1"/>
<rect x="663.53" y="290.96" width="16.39" height="10.10" fill="#e6e6e8"/>
<rect x="57.10" y="301.07" width="16.39" height="10.10" fill="#aed3e6"/>
<rect x="73.49" y="301.07" width="16.39" height="10.10" fill="#f2e0d7"/>
<rect x="89.88" y="301.07" width="16.39" height="10.10" fill="#aed3e6"/>
<rect x="106.27" y="301.07" width="16.39" height="10.10" fill="#78b5d5"/>
<rect x="122.66" y="301.07" width="16.39" height="10.10" fill="#9ecbe1"/>
<rect x="139.05" y="301.07" width="16.39" height="10.10" fill="#64a8ce"/>
<rect x="155.44" y="301.07" width="16.39" height="10.10" fill="#8dc2dc"/>
<rect x="171.83" y="301.07" width="16.39" height="10.10" fill="#8dc2dc"/>
<rect x="188.22" y="301.07" width="16.39" height="10.10" fill="#78b5d5"/>
<rect x="204.61" y="301.07" width="16.39" height="10.10" fill="#8dc2dc"/>
<rect x="221.00" y="301.07" width="16.39" height="10.10" fill="#8dc2dc"/>
<rect x="237.39" y="301.07" width="16.39" height="10.10" fill="#78b5d5"/>
<rect x="253.78" y="301.07" width="16.39" height="10.10" fill="#cfe4ef"/>
<rect x="270.17" y="301.07" width="16.39" height="10.10" fill="#cfe4ef"/>
<rect x="286.56" y="301.07" width="16.39" height="10.10" fill="#9ecbe1"/>
<rect x="302.95" y="301.07" width="16.39" height="10.10" fill="#8dc2dc"/>
<rect x="319.34" y="301.07" width="16.39" height="10.10" fill="#8dc2dc"/>
<rect x="335.73" y="301.07" width="16.39" height="10.10" fill="#3f8ec1"/>
<rect x="352.12" y="301.07" width="16.39" height="10.10" fill="#8dc2dc"/>
<rect x="368.51" y="301.07" width="16.39" height="10.10" fill="#b6212f"/>
<rect x="384.90" y="301.07" width="16.39" height="10.10" fill="#d25949"/>
<rect x="401.29" y="301.07" width="16.39" height="10.10" fill="#f2a07e"/>
<rect x="417.68" y="301.07" width="16.39" height="10.10" fill="#f2a07e"/>
<rect x="434.07" y="301.07" width="16.39" height="10.10" fill="#ea8e71"/>
<rect x="450.46" y="301.07" width="16.39" height="10.10" fill="#f6af8f"/>
<rect x="466.85" y="301.07" width="16.39" height="10.10" fill="#d25949"/>
<rect x="483.24" y="301.07" width="16.39" height="10.10" fill="#ea8e71"/>
<rect x="499.63" y="301.07" width="16.39" height="10.10" fill="#ea8e71"/>
<rect x="516.02" y="301.07" width="16.39" height="10.10" fill="#e27d63"/>
<rect x="532.41" y="301.07" width="16.39" height="10.10" fill="#facbb3"/>
<rect x="548.80" y="301.07" width="16.39" height="10.10" fill="#fdd9c5"/>
<rect x="565.19" y="301.07" width="16.39" height="10.10" fill="#d25949"/>
<rect x="581.58" y="301.07" width="16.39" height="10.10" fill="#f2e0d7"/>
<rect x="597.97" y="301.07" width="16.39" height="10.10" fill="#cfe4ef"/>
<rect x="614.36" y="301.07" width="16.39" height="10.10" fill="#cfe4ef"/>
<rect x="630.75" y="301.07" width="16.39" height="10.10" fill="#e1e6ea"/>
<rect x="647.14" y="301.07" width="16.39" height="10.10" fill="#aed3e6"/>
<rect x="663.53" y="301.07" width="16.39" height="10.10" fill="#ece3df"/>
<rect x="57.10" y="311.17" width="16.39" height="10.10" fill="#aed3e6"/>
<rect x="73.49" y="311.17" width="16.39" height="10.10" fill="#cfe4ef"/>
<rect x="89.88" y="311.17" width="16.39" height="10.10" fill="#aed3e6"/>
<rect x="106.27" y="311.17" width="16.39" height="10.10" fill="#9ecbe1"/>
<rect x="122.66" y="311.17" width="16.39" height="10.10" fill="#78b5d5"/>
<rect x="139.05" y="311.17" width="16.39" height="10.10" fill="#64a8ce"/>
<rect x="155.44" y="311.17" width="16.39" height="10.10" fill="#8dc2dc"/>
<rect x="171.83" y="311.17" width="16.39" height="10.10" fill="#8dc2dc"/>
<rect x="188.22" y="311.17" width="16.39" height="10.10" fill="#16518e"/>
<rect x="204.61" y="311.17" width="16.39" height="10.10" fill="#8dc2dc"/>
<rect x="221.00" y="311.17" width="16.39" height="10.10" fill="#78b5d5"/>
<rect x="237.39" y="311.17" width="16.39" height="10.10" fill="#8dc2dc"/>
<rect x="253.78" y="311.17" width="16.39" height="10.10" fill="#cfe4ef"/>
<rect x="270.17" y="311.17" width="16.39" height="10.10" fill="#aed3e6"/>
<rect x="286.56" y="311.17" width="16.39" height="10.10" fill="#9ecbe1"/>
<rect x="302.95" y="311.17" width="16.39" height="10.10" fill="#aed3e6"/>
<rect x="319.34" y="311.17" width="16.39" height="10.10" fill="#8dc2dc"/>
<rect x="335.73" y="311.17" width="16.39" height="10.10" fill="#8dc2dc"/>
<rect x="352.12" y="311.17" width="16.39" height="10.10" fill="#8dc2dc"/>
<rect x="368.51" y="311.17" width="16.39" height="10.10" fill="#db6b55"/>
<rect x="384.90" y="311.17" width="16.39" height="10.10" fill="#e27d63"/>
<rect x="401.29" y="311.17" width="16.39" height="10.10" fill="#f6af8f"/>
<rect x="417.68" y="311.17" width="16.39" height="10.10" fill="#f6af8f"/>
<rect x="434.07" y="311.17" width="16.39" height="10.10" fill="#f6af8f"/>
<rect x="450.46" y="311.17" width="16.39" height="10.10" fill="#f2a07e"/>
<rect x="466.85" y="311.17" width="16.39" height="10.10" fill="#f2a07e"/>
<rect x="483.24" y="311.17" width="16.39" height="10.10" fill="#f6af8f"/>
<rect x="499.63" y="311.17" width="16.39" height="10.10" fill="#f6af8f"/>
<rect x="516.02" y="311.17" width="16.39" height="10.10" fill="#f2a07e"/>
<rect x="532.41" y="311.17" width="16.39" height="10.10" fill="#f6af8f"/>
<rect x="548.80" y="311.17" width="16.39" height="10.10" fill="#f8bda1"/>
<rect x="565.19" y="311.17" width="16.39" height="10.10" fill="#f6af8f"/>
<rect x="581.58" y="311.17" width="16.39" height="10.10" fill="#f8bda1"/>
<rect x="597.97" y="311.17" width="16.39" height="10.10" fill="#fdd9c5"/>
<rect x="614.36" y="311.17" width="16.39" height="10.10" fill="#fdd9c5"/>
<rect x="630.75" y="311.17" width="16.39" height="10.10" fill="#facbb3"/>
<rect x="647.14" y="311.17" width="16.39" height="10.10" fill="#fdd9c5"/>
<rect x="663.53" y="311.17" width="16.39" height="10.10" fill="#f8bda1"/>
<rect x="57.10" y="321.27" width="16.39" height="10.10" fill="#8dc2dc"/>
<rect x="73.49" y="321.27" width="16.39" height="10.10" fill="#aed3e6"/>
<rect x="89.88" y="321.27" width="16.39" height="10.10" fill="#9ecbe1"/>
<rect x="106.27" y="321.27" width="16.39" height="10.10" fill="#78b5d5"/>
<rect x="122.66" y="321.27" width="16.39" height="10.10" fill="#78b5d5"/>
<rect x="139.05" y="321.27" width="16.39" height="10.10" fill="#9ecbe1"/>
<rect x="155.44" y="321.27" width="16.39" height="10.10" fill="#bfdceb"/>
<rect x="171.83" y="321.27" width="16.39" height="10.10" fill="#aed3e6"/>
<rect x="188.22" y="321.27" width="16.39" height="10.10" fill="#9ecbe1"/>
<rect x="204.61" y="321.27" width="16.39" height="10.10" fill="#9ecbe1"/>
<rect x="221.00" y="321.27" width="16.39" height="10.10" fill="#8dc2dc"/>
<rect x="237.39" y="321.27" width="16.39" height="10.10" fill="#aed3e6"/>
<rect x="253.78" y="321.27" width="16.39" height="10.10" fill="#78b5d5"/>
<rect x="270.17" y="321.27" width="16.39" height="10.10" fill="#64a8ce"/>
<rect x="286.56" y="321.27" width="16.39" height="10.10" fill="#3e8cbf"/>
<rect x="302.95" y="321.27" width="16.39" height="10.10" fill="#64a8ce"/>
<rect x="319.34" y="321.27" width="16.39" height="10.10" fill="#3e8cbf"/>
<rect x="335.73" y="321.27" width="16.39" height="10.10" fill="#bfdceb"/>
<rect x="352.12" y="321.27" width="16.39" height="10.10" fill="#cfe4ef"/>
<rect x="368.51" y="321.27" width="16.39" height="10.10" fill="#ea8e71"/>
<rect x="384.90" y="321.27" width="16.39" height="10.10" fill="#f2a07e"/>
<rect x="401.29" y="321.27" width="16.39" height="10.10" fill="#f2a07e"/>
<rect x="417.68" y="321.27" width="16.39" height="10.10" fill="#ea8e71"/>
<rect x="434.07" y="321.27" width="16.39" height="10.10" fill="#db6b55"/>
<rect x="450.46" y="321.27" width="16.39" height="10.10" fill="#ea8e71"/>
<rect x="466.85" y="321.27" width="16.39" height="10.10" fill="#ea8e71"/>
<rect x="483.24" y="321.27" width="16.39" height="10.10" fill="#f2a07e"/>
<rect x="499.63" y="321.27" width="16.39" height="10.10" fill="#ea8e71"/>
<rect x="516.02" y="321.27" width="16.39" height="10.10" fill="#ea8e71"/>
<rect x="532.41" y="321.27" width="16.39" height="10.10" fill="#f6af8f"/>
<rect x="548.80" y="321.27" width="16.39" height="10.10" fill="#facbb3"/>
<rect x="565.19" y="321.27" width="16.39" height="10.10" fill="#f6af8f"/>
<rect x="581.58" y="321.27" width="16.39" height="10.10" fill="#f8ddce"/>
<rect x="597.97" y="321.27" width="16.39" height="10.10" fill="#e6e6e8"/>
<rect x="614.36" y="321.27" width="16.39" height="10.10" fill="#f2e0d7"/>
<rect x="630.75" y="321.27" width="16.39" height="10.10" fill="#f8ddce"/>
<rect x="647.14" y="321.27" width="16.39" height="10.10" fill="#f8bda1"/>
<rect x="663.53" y="321.27" width="16.39" height="10.10" fill="#ea8e71"/>
<rect x="57.10" y="331.38" width="16.39" height="10.10" fill="#8dc2dc"/>
<rect x="73.49" y="331.38" width="16.39" height="10.10" fill="#8dc2dc"/>
<rect x="89.88" y="331.38" width="16.39" height="10.10" fill="#8dc2dc"/>
<rect x="106.27" y="331.38" width="16.39" height="10.10" fill="#78b5d5"/>
<rect x="122.66" y="331.38" width="16.39" height="10.10" fill="#8dc2dc"/>
<rect x="139.05" y="331.38" width="16.39" height="10.10" fill="#78b5d5"/>
<rect x="155.44" y="331.38" width="16.39" height="10.10" fill="#8dc2dc"/>
<rect x="171.83" y="331.38" width="16.39" height="10.10" fill="#bfdceb"/>
<rect x="188.22" y="331.38" width="16.39" height="10.10" fill="#8dc2dc"/>
<rect x="204.61" y="331.38" width="16.39" height="10.10" fill="#8dc2dc"/>
<rect x="221.00" y="331.38" width="16.39" height="10.10" fill="#8dc2dc"/>
<rect x="237.39" y="331.38" width="16.39" height="10.10" fill="#78b5d5"/>
<rect x="253.78" y="331.38" width="16.39" height="10.10" fill="#78b5d5"/>
<rect x="270.17" y="331.38" width="16.39" height="10.10" fill="#78b5d5"/>
<rect x="286.56" y="331.38" width="16.39" height="10.10" fill="#8dc2dc"/>
<rect x="302.95" y="331.38" width="16.39" height="10.10" fill="#78b5d5"/>
<rect x="319.34" y="331.38" width="16.39" height="10.10" fill="#78b5d5"/>
<rect x="335.73" y="331.38" width="16.39" height="10.10" fill="#8dc2dc"/>
<rect x="352.12" y="331.38" width="16.39" height="10.10" fill="#8dc2dc"/>
<rect x="368.51" y="331.38" width="16.39" height="10.10" fill="#f2a07e"/>
<rect x="384.90" y="331.38" width="16.39" height="10.10" fill="#f8bda1"/>
<rect x="401.29" y="331.38" width="16.39" height="10.10" fill="#f6af8f"/>
<rect x="417.68" y="331.38" width="16.39" height="10.10" fill="#ea8e71"/>
<rect x="434.07" y="331.38" width="16.39" height="10.10" fill="#ea8e71"/>
<rect x="450.46" y="331.38" width="16.39" height="10.10" fill="#ea8e71"/>
<rect x="466.85" y="331.38" width="16.39" height="10.10" fill="#e27d63"/>
<rect x="483.24" y="331.38" width="16.39" height="10.10" fill="#ea8e71"/>
<rect x="499.63" y="331.38" width="16.39" height="10.10" fill="#e27d63"/>
<rect x="516.02" y="331.38" width="16.39" height="10.10" fill="#e27d63"/>
<rect x="532.41" y="331.38" width="16.39" height="10.10" fill="#e27d63"/>
<rect x="548.80" y="331.38" width="16.39" height="10.10" fill="#ea8e71"/>
<rect x="565.19" y="331.38" width="16.39" height="10.10" fill="#facbb3"/>
<rect x="581.58" y="331.38" width="16.39" height="10.10" fill="#f8bda1"/>
<rect x="597.97" y="331.38" width="16.39" height="10.10" fill="#fdd9c5"/>
<rect x="614.36" y="331.38" width="16.39" height="10.10" fill="#facbb3"/>
<rect x="630.75" y="331.38" width="16.39" height="10.10" fill="#facbb3"/>
<rect x="647.14" y="331.38" width="16.39" height="10.10" fill="#fdd9c5"/>
<rect x="663.53" y="331.38" width="16.39" height="10.10" fill="#facbb3"/>
<rect x="57.10" y="341.48" width="16.39" height="10.10" fill="#d6e5ee"/>
<rect x="73.49" y="341.48" width="16.39" height="10.10" fill="#cfe4ef"/>
<rect x="89.88" y="341.48" width="16.39" height="10.10" fill="#aed3e6"/>
<rect x="106.27" y="341.48" width="16.39" height="10.10" fill="#8dc2dc"/>
<rect x="122.66" y="341.48" width="16.39" height="10.10" fill="#8dc2dc"/>
<rect x="139.05" y="341.48" width="16.39" height="10.10" fill="#4f9bc7"/>
<rect x="155.44" y="341.48" width="16.39" height="10.10" fill="#8dc2dc"/>
<rect x="171.83" y="341.48" width="16.39" height="10.10" fill="#8dc2dc"/>
<rect x="188.22" y="341.48" width="16.39" height="10.10" fill="#8dc2dc"/>
<rect x="204.61" y="341.48" width="16.39" height="10.10" fill="#8dc2dc"/>
<rect x="221.00" y="341.48" width="16.39" height="10.10" fill="#78b5d5"/>
<rect x="237.39" y="341.48" width="16.39" height="10.10" fill="#8dc2dc"/>
<rect x="253.78" y="341.48" width="16.39" height="10.10" fill="#8dc2dc"/>
<rect x="270.17" y="341.48" width="16.39" height="10.10" fill="#8dc2dc"/>
<rect x="286.56" y="341.48" width="16.39" height="10.10" fill="#78b5d5"/>
<rect x="302.95" y="341.48" width="16.39" height="10.10" fill="#64a8ce"/>
<rect x="319.34" y="341.48" width="16.39" height="10.10" fill="#78b5d5"/>
<rect x="335.73" y="341.48" width="16.39" height="10.10" fill="#4f9bc7"/>
<rect x="352.12" y="341.48" width="16.39" height="10.10" fill="#4f9bc7"/>
<rect x="368.51" y="341.48" width="16.39" height="10.10" fill="#db6b55"/>
<rect x="384.90" y="341.48" width="16.39" height="10.10" fill="#db6b55"/>
<rect x="401.29" y="341.48" width="16.39" height="10.10" fill="#ea8e71"/>
<rect x="417.68" y="341.48" width="16.39" height="10.10" fill="#ea8e71"/>
<rect x="434.07" y="341.48" width="16.39" height="10.10" fill="#f2a07e"/>
<rect x="450.46" y="341.48" width="16.39" height="10.10" fill="#f2a07e"/>
<rect x="466.85" y="341.48" width="16.39" height="10.10" fill="#ea8e71"/>
<rect x="483.24" y="341.48" width="16.39" height="10.10" fill="#f8bda1"/>
<rect x="499.63" y="341.48" width="16.39" height="10.10" fill="#ea8e71"/>
<rect x="516.02" y="341.48" width="16.39" height="10.10" fill="#ea8e71"/>
<rect x="532.41" y="341.48" width="16.39" height="10.10" fill="#e27d63"/>
<rect x="548.80" y="341.48" width="16.39" height="10.10" fill="#ea8e71"/>
<rect x="565.19" y="341.48" width="16.39" height="10.10" fill="#f8bda1"/>
<rect x="581.58" y="341.48" width="16.39" height="10.10" fill="#facbb3"/>
<rect x="597.97" y="341.48" width="16.39" height="10.10" fill="#f8ddce"/>
<rect x="614.36" y="341.48" width="16.39" height="10.10" fill="#f6af8f"/>
<rect x="630.75" y="341.48" width="16.39" height="10.10" fill="#f8ddce"/>
<rect x="647.14" y="341.48" width="16.39" height="10.10" fill="#fdd9c5"/>
<rect x="663.53" y="341.48" width="16.39" height="10.10" fill="#facbb3"/>
</g>
<path d="M57.10 43.41H55.50V53.52H57.10M57.10 33.31H54.50V48.47H55.50M57.10 23.21H53.70V40.89H54.50M57.10 13.10H50.30V32.05H53.70M57.10 63.62H54.90V73.73H57.10M57.10 104.04H55.60V114.14H57.10M57.10 93.93H54.60V109.09H55.60M57.10 83.83H52.50V101.51H54.60M54.90 68.67H49.60V92.67H52.50M50.30 22.57H46.20V80.67H49.60M57.10 124.25H48.50V134.35H57.10M57.10 144.45H48.00V154.56H57.10M48.50 129.30H44.80V149.51H48.00M57.10 164.66H55.60V174.77H57.10M57.10 184.87H56.00V194.97H57.10M57.10 205.08H55.80V215.18H57.10M56.00 189.92H55.30V210.13H55.80M57.10 235.39H55.50V245.49H57.10M57.10 225.29H54.50V240.44H55.50M57.10 255.60H55.50V265.70H57.10M54.50 232.86H52.50V260.65H55.50M55.30 200.03H52.20V246.76H52.50M55.60 169.71H49.30V223.39H52.20M57.10 275.81H51.60V285.91H57.10M57.10 296.01H54.70V306.12H57.10M57.10 336.43H55.80V346.53H57.10M57.10 326.33H55.20V341.48H55.80M57.10 316.22H53.90V333.90H55.20M54.70 301.07H51.00V325.06H53.90M51.60 280.86H47.20V313.06H51.00M49.30 196.55H41.30V296.96H47.20M44.80 139.40H35.50V246.76H41.30M46.20 51.62H25.20V193.08H35.50" fill="none" stroke="#444" stroke-width="0.9"/>
<line x1="0.8" y1="119.25" x2="680" y2="119.25" stroke="#111" stroke-width="1"/>
<line x1="0.8" y1="159.6" x2="680" y2="159.6" stroke="#111" stroke-width="1"/>
<line x1="0.8" y1="270.5" x2="680" y2="270.5" stroke="#111" stroke-width="1"/>
<text x="9.5" y="59.8" font-size="9.6" fill="#3a3a3a">1</text>
<text x="9.5" y="140.9" font-size="9.6" fill="#3a3a3a">2</text>
<text x="9.5" y="217.1" font-size="9.6" fill="#3a3a3a">3</text>
<text x="9.5" y="313.8" font-size="9.6" fill="#3a3a3a">4</text>
<g font-size="5" fill="#333">
<text x="682" y="15.50">Lactosylceramide (</text>
<text x="682" y="25.61">Prostaglandin E1</text>
<text x="682" y="35.71">Leukotriene B4</text>
<text x="682" y="45.81">12(13)Ep-9-KODE</text>
<text x="682" y="55.92">bicyclo-PGE2</text>
<text x="682" y="66.02">13-L-Hydroperoxyli</text>
<text x="682" y="76.13">9,10,13-TriHOME</text>
<text x="682" y="86.23">Cholesteryl docosa</text>
<text x="682" y="96.33">LysoPC(P-18:0)</text>
<text x="682" y="106.44">10,11 dihydro-leuk</text>
<text x="682" y="116.54">5-Heto</text>
<text x="682" y="126.65">Acetic acid</text>
<text x="682" y="136.75">D-Glucose</text>
<text x="682" y="146.85">Glycolic acid</text>
<text x="682" y="156.96">Hydroxypropionic a</text>
<text x="682" y="167.06">Eicosapentaenoic a</text>
<text x="682" y="177.17">Alpha-Linolenic ac</text>
<text x="682" y="187.27">8,11,14-Eicosatrie</text>
<text x="682" y="197.37">Cis-8,11,14,17-Eic</text>
<text x="682" y="207.48">10-Nonadecanoic ac</text>
<text x="682" y="217.58">Heptadecanoic acid</text>
<text x="682" y="227.69">10-Octadecenoic ac</text>
<text x="682" y="237.79">Palmitoleic acid</text>
<text x="682" y="247.89">Stearic acid</text>
<text x="682" y="258.00">17-HDoHE</text>
<text x="682" y="268.10">Carbocyclic thromb</text>
<text x="682" y="278.21">Chenodeoxycholic a</text>
<text x="682" y="288.31">Glycocholic acid</text>
<text x="682" y="298.41">Myristic acid</text>
<text x="682" y="308.52">Palmitic acid</text>
<text x="682" y="318.62">Eicosenoic acid</text>
<text x="682" y="328.73">Docosahexaenoic ac</text>
<text x="682" y="338.83">11,14-Eicosadienoi</text>
<text x="682" y="348.93">6Z,9Z-octadecadien</text>
</g>
<text x="682" y="6" font-size="5.3" font-weight="bold" fill="#222">class</text>
<g font-size="5" fill="#333">
<text transform="translate(63.50,353.4) rotate(90)">Control_01.0</text>
<text transform="translate(79.89,353.4) rotate(90)">Control_02.0</text>
<text transform="translate(96.28,353.4) rotate(90)">Control_03.0</text>
<text transform="translate(112.67,353.4) rotate(90)">Control_04.0</text>
<text transform="translate(129.05,353.4) rotate(90)">Control_05.0</text>
<text transform="translate(145.44,353.4) rotate(90)">Control_06.0</text>
<text transform="translate(161.83,353.4) rotate(90)">Control_07.0</text>
<text transform="translate(178.22,353.4) rotate(90)">Control_08.0</text>
<text transform="translate(194.61,353.4) rotate(90)">Control_09.0</text>
<text transform="translate(211.00,353.4) rotate(90)">Control_10.0</text>
<text transform="translate(227.39,353.4) rotate(90)">Control_11.0</text>
<text transform="translate(243.78,353.4) rotate(90)">Control_12.0</text>
<text transform="translate(260.18,353.4) rotate(90)">Control_13.0</text>
<text transform="translate(276.56,353.4) rotate(90)">Control_14.0</text>
<text transform="translate(292.95,353.4) rotate(90)">Control_15.0</text>
<text transform="translate(309.35,353.4) rotate(90)">Control_16.0</text>
<text transform="translate(325.74,353.4) rotate(90)">Control_17.0</text>
<text transform="translate(342.12,353.4) rotate(90)">Control_18.0</text>
<text transform="translate(358.52,353.4) rotate(90)">Control_19.0</text>
<text transform="translate(374.91,353.4) rotate(90)">MAP_01.0</text>
<text transform="translate(391.30,353.4) rotate(90)">MAP_02.0</text>
<text transform="translate(407.69,353.4) rotate(90)">MAP_03.0</text>
<text transform="translate(424.08,353.4) rotate(90)">MAP_04.0</text>
<text transform="translate(440.47,353.4) rotate(90)">MAP_05.0</text>
<text transform="translate(456.86,353.4) rotate(90)">MAP_06.0</text>
<text transform="translate(473.25,353.4) rotate(90)">MAP_07.0</text>
<text transform="translate(489.64,353.4) rotate(90)">MAP_08.0</text>
<text transform="translate(506.03,353.4) rotate(90)">MAP_09.0</text>
<text transform="translate(522.42,353.4) rotate(90)">MAP_10.0</text>
<text transform="translate(538.81,353.4) rotate(90)">MAP_11.0</text>
<text transform="translate(555.20,353.4) rotate(90)">MAP_12.0</text>
<text transform="translate(571.59,353.4) rotate(90)">MAP_13.0</text>
<text transform="translate(587.98,353.4) rotate(90)">MAP_14.0</text>
<text transform="translate(604.37,353.4) rotate(90)">MAP_15.0</text>
<text transform="translate(620.76,353.4) rotate(90)">MAP_16.0</text>
<text transform="translate(637.15,353.4) rotate(90)">MAP_17.0</text>
<text transform="translate(653.54,353.4) rotate(90)">MAP_18.0</text>
<text transform="translate(669.93,353.4) rotate(90)">MAP_19.0</text>
</g>
<defs><linearGradient id="cb" x1="0" y1="0" x2="0" y2="1">
<stop offset="0.00" stop-color="#67001F"/>
<stop offset="0.10" stop-color="#B2182B"/>
<stop offset="0.20" stop-color="#D6604D"/>
<stop offset="0.30" stop-color="#F4A582"/>
<stop offset="0.40" stop-color="#FDDBC7"/>
<stop offset="0.50" stop-color="#E6E6E8"/>
<stop offset="0.60" stop-color="#D1E5F0"/>
<stop offset="0.70" stop-color="#92C5DE"/>
<stop offset="0.80" stop-color="#4393C3"/>
<stop offset="0.90" stop-color="#2166AC"/>
<stop offset="1.00" stop-color="#053061"/>
</linearGradient></defs>
<rect x="732.3" y="1.2" width="6" height="91.4" fill="url(#cb)"/>
<g font-size="5.2" fill="#333">
<text x="741" y="17.1">2</text>
<text x="741" y="33.2">1</text>
<text x="741" y="49.1">0</text>
<text x="741" y="65.1">-1</text>
<text x="741" y="80.7">-2</text>
</g>
<text x="746.8" y="4.9" font-size="5.3" font-weight="bold" fill="#222">class</text>
<rect x="746.8" y="6.30" width="6.4" height="6.6" fill="#E8174A"/>
<rect x="746.8" y="13.04" width="6.4" height="6.6" fill="#A0604A"/>
<rect x="746.8" y="19.78" width="6.4" height="6.6" fill="#4DAF4A"/>
<rect x="746.8" y="26.52" width="6.4" height="6.6" fill="#2E9A80"/>
<rect x="746.8" y="33.26" width="6.4" height="6.6" fill="#3A6CC0"/>
<rect x="746.8" y="40.00" width="6.4" height="6.6" fill="#3F7FDD"/>
<rect x="746.8" y="46.74" width="6.4" height="6.6" fill="#3FB8EC"/>
<rect x="746.8" y="53.48" width="6.4" height="6.6" fill="#6AAEE8"/>
<rect x="746.8" y="60.22" width="6.4" height="6.6" fill="#B560E0"/>
<rect x="746.8" y="66.96" width="6.4" height="6.6" fill="#EC3CC8"/>
<rect x="746.8" y="73.70" width="6.4" height="6.6" fill="#F4956A"/>
<rect x="746.8" y="80.44" width="6.4" height="6.6" fill="#F2D01C"/>
<rect x="746.8" y="87.18" width="6.4" height="6.6" fill="#C8806C"/>
<rect x="746.8" y="93.92" width="6.4" height="6.6" fill="#8A1FB0"/>
<rect x="746.8" y="100.66" width="6.4" height="6.6" fill="#B84A88"/>
<rect x="746.8" y="107.40" width="6.4" height="6.6" fill="#F07438"/>
<rect x="746.8" y="114.14" width="6.4" height="6.6" fill="#F0A840"/>
<rect x="746.8" y="120.88" width="6.4" height="6.6" fill="#C8E030"/>
<rect x="746.8" y="127.62" width="6.4" height="6.6" fill="#D0E860"/>
<rect x="746.8" y="134.36" width="6.4" height="6.6" fill="#F0C8A0"/>
<rect x="746.8" y="141.10" width="6.4" height="6.6" fill="#E0B4B4"/>
<rect x="746.8" y="147.84" width="6.4" height="6.6" fill="#80A8A0"/>
<rect x="746.8" y="154.58" width="6.4" height="6.6" fill="#40A0A0"/>
<rect x="746.8" y="161.32" width="6.4" height="6.6" fill="#98A8D8"/>
<rect x="746.8" y="168.06" width="6.4" height="6.6" fill="#E0B0F8"/>
<rect x="746.8" y="174.80" width="6.4" height="6.6" fill="#C88890"/>
<rect x="746.8" y="181.54" width="6.4" height="6.6" fill="#A86028"/>
<rect x="746.8" y="188.28" width="6.4" height="6.6" fill="#983018"/>
<rect x="746.8" y="195.02" width="6.4" height="6.6" fill="#880808"/>
<rect x="746.8" y="201.76" width="6.4" height="6.6" fill="#985040"/>
<rect x="746.8" y="208.50" width="6.4" height="6.6" fill="#98C898"/>
<rect x="746.8" y="215.24" width="6.4" height="6.6" fill="#90E890"/>
<rect x="746.8" y="221.98" width="6.4" height="6.6" fill="#88A030"/>
<rect x="746.8" y="228.72" width="6.4" height="6.6" fill="#989010"/>
<rect x="746.8" y="235.46" width="6.4" height="6.6" fill="#D8B870"/>
<rect x="746.8" y="242.20" width="6.4" height="6.6" fill="#F0C8B0"/>
<rect x="746.8" y="248.94" width="6.4" height="6.6" fill="#7868A0"/>
<rect x="746.8" y="255.68" width="6.4" height="6.6" fill="#000080"/>
<g font-size="5" fill="#333">
<text x="755" y="11.70">Control_01.0</text>
<text x="755" y="18.44">Control_02.0</text>
<text x="755" y="25.18">Control_03.0</text>
<text x="755" y="31.92">Control_04.0</text>
<text x="755" y="38.66">Control_05.0</text>
<text x="755" y="45.40">Control_06.0</text>
<text x="755" y="52.14">Control_07.0</text>
<text x="755" y="58.88">Control_08.0</text>
<text x="755" y="65.62">Control_09.0</text>
<text x="755" y="72.36">Control_10.0</text>
<text x="755" y="79.10">Control_11.0</text>
<text x="755" y="85.84">Control_12.0</text>
<text x="755" y="92.58">Control_13.0</text>
<text x="755" y="99.32">Control_14.0</text>
<text x="755" y="106.06">Control_15.0</text>
<text x="755" y="112.80">Control_16.0</text>
<text x="755" y="119.54">Control_17.0</text>
<text x="755" y="126.28">Control_18.0</text>
<text x="755" y="133.02">Control_19.0</text>
<text x="755" y="139.76">MAP_01.0</text>
<text x="755" y="146.50">MAP_02.0</text>
<text x="755" y="153.24">MAP_03.0</text>
<text x="755" y="159.98">MAP_04.0</text>
<text x="755" y="166.72">MAP_05.0</text>
<text x="755" y="173.46">MAP_06.0</text>
<text x="755" y="180.20">MAP_07.0</text>
<text x="755" y="186.94">MAP_08.0</text>
<text x="755" y="193.68">MAP_09.0</text>
<text x="755" y="200.42">MAP_10.0</text>
<text x="755" y="207.16">MAP_11.0</text>
<text x="755" y="213.90">MAP_12.0</text>
<text x="755" y="220.64">MAP_13.0</text>
<text x="755" y="227.38">MAP_14.0</text>
<text x="755" y="234.12">MAP_15.0</text>
<text x="755" y="240.86">MAP_16.0</text>
<text x="755" y="247.60">MAP_17.0</text>
<text x="755" y="254.34">MAP_18.0</text>
<text x="755" y="261.08">MAP_19.0</text>
</g>
</svg></body></html>
